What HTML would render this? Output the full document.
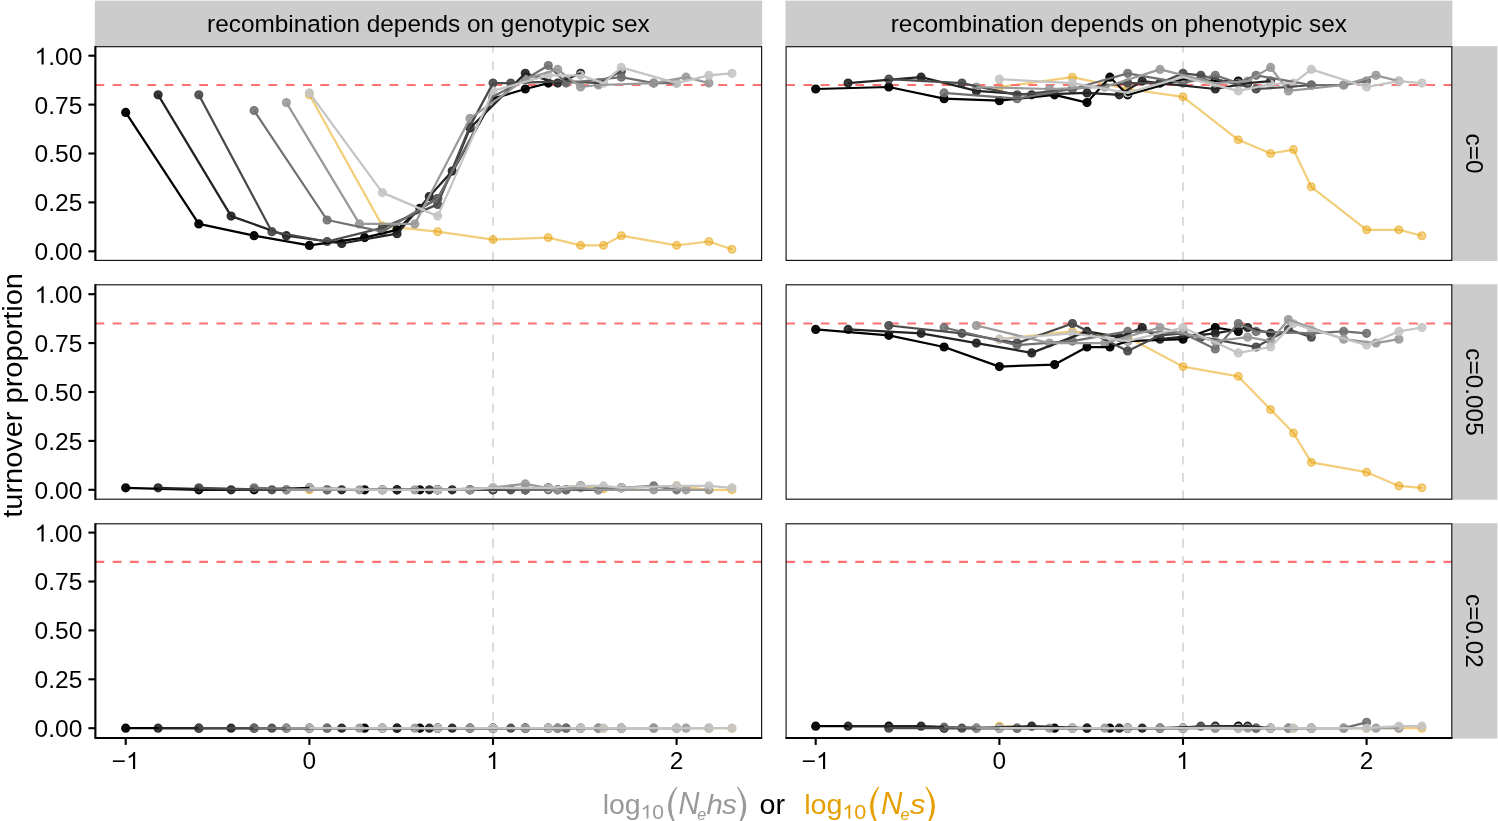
<!DOCTYPE html>
<html><head><meta charset="utf-8"><title>turnover proportion</title>
<style>html,body{margin:0;padding:0;background:#fff;}svg{display:block;will-change:transform;}</style></head>
<body>
<svg width="1498" height="821" viewBox="0 0 1498 821" font-family="Liberation Sans, sans-serif">
<rect x="0" y="0" width="1498" height="821" fill="#ffffff"/>
<rect x="94.80000000000001" y="0.6" width="667.4000000000001" height="46.1" fill="#cccccc"/>
<text transform="translate(428.40,31.60) scale(1.037,1.0)" font-size="23.5" text-anchor="middle" fill="#000">recombination depends on genotypic sex</text>
<rect x="785.5" y="0.6" width="666.9" height="46.1" fill="#cccccc"/>
<text transform="translate(1118.85,31.60) scale(1.037,1.0)" font-size="23.5" text-anchor="middle" fill="#000">recombination depends on phenotypic sex</text>
<rect x="1451.8" y="46.1" width="45.600000000000136" height="214.89999999999998" fill="#cccccc"/>
<text transform="translate(1466.20,153.55) rotate(90) scale(1.037,1.0)" font-size="23.5" text-anchor="middle" fill="#000">c=0</text>
<rect x="1451.8" y="284.2" width="45.600000000000136" height="215.59999999999997" fill="#cccccc"/>
<text transform="translate(1466.20,392.00) rotate(90) scale(1.037,1.0)" font-size="23.5" text-anchor="middle" fill="#000">c=0.005</text>
<rect x="1451.8" y="523.1999999999999" width="45.600000000000136" height="215.40000000000003" fill="#cccccc"/>
<text transform="translate(1466.20,630.90) rotate(90) scale(1.037,1.0)" font-size="23.5" text-anchor="middle" fill="#000">c=0.02</text>
<g>
<rect x="95.4" y="46.7" width="666.2" height="213.7" fill="#fff"/>
<clipPath id="c00"><rect x="95.4" y="46.7" width="666.2" height="213.7"/></clipPath>
<g clip-path="url(#c00)">
<line x1="493.0" y1="260.4" x2="493.0" y2="46.7" stroke="#dadada" stroke-width="1.9" stroke-dasharray="8.85 8.45"/>
<polyline points="309.4,94.8 382.4,225.9 437.7,231.7 493.0,239.6 548.3,237.6 580.6,245.4 603.5,245.4 621.3,235.7 676.6,245.4 708.9,241.5 731.9,249.3" fill="none" stroke="#E69F00" stroke-opacity="0.52" stroke-width="2.2" stroke-linejoin="round"/>
<circle cx="309.4" cy="94.8" r="3.85" fill="#E69F00" fill-opacity="0.46" stroke="#E69F00" stroke-opacity="0.5" stroke-width="1.4"/>
<circle cx="382.4" cy="225.9" r="3.85" fill="#E69F00" fill-opacity="0.46" stroke="#E69F00" stroke-opacity="0.5" stroke-width="1.4"/>
<circle cx="437.7" cy="231.7" r="3.85" fill="#E69F00" fill-opacity="0.46" stroke="#E69F00" stroke-opacity="0.5" stroke-width="1.4"/>
<circle cx="493.0" cy="239.6" r="3.85" fill="#E69F00" fill-opacity="0.46" stroke="#E69F00" stroke-opacity="0.5" stroke-width="1.4"/>
<circle cx="548.3" cy="237.6" r="3.85" fill="#E69F00" fill-opacity="0.46" stroke="#E69F00" stroke-opacity="0.5" stroke-width="1.4"/>
<circle cx="580.6" cy="245.4" r="3.85" fill="#E69F00" fill-opacity="0.46" stroke="#E69F00" stroke-opacity="0.5" stroke-width="1.4"/>
<circle cx="603.5" cy="245.4" r="3.85" fill="#E69F00" fill-opacity="0.46" stroke="#E69F00" stroke-opacity="0.5" stroke-width="1.4"/>
<circle cx="621.3" cy="235.7" r="3.85" fill="#E69F00" fill-opacity="0.46" stroke="#E69F00" stroke-opacity="0.5" stroke-width="1.4"/>
<circle cx="676.6" cy="245.4" r="3.85" fill="#E69F00" fill-opacity="0.46" stroke="#E69F00" stroke-opacity="0.5" stroke-width="1.4"/>
<circle cx="708.9" cy="241.5" r="3.85" fill="#E69F00" fill-opacity="0.46" stroke="#E69F00" stroke-opacity="0.5" stroke-width="1.4"/>
<circle cx="731.9" cy="249.3" r="3.85" fill="#E69F00" fill-opacity="0.46" stroke="#E69F00" stroke-opacity="0.5" stroke-width="1.4"/>
<line x1="95.4" y1="85.0" x2="761.6" y2="85.0" stroke="#ff7272" stroke-width="2.1" stroke-dasharray="8.85 8.45"/>
<circle cx="125.7" cy="112.4" r="3.9" fill="#000000" fill-opacity="0.95" stroke="#000000" stroke-opacity="0.95" stroke-width="1.4"/>
<circle cx="198.8" cy="223.9" r="3.9" fill="#000000" fill-opacity="0.95" stroke="#000000" stroke-opacity="0.95" stroke-width="1.4"/>
<circle cx="254.1" cy="235.7" r="3.9" fill="#000000" fill-opacity="0.95" stroke="#000000" stroke-opacity="0.95" stroke-width="1.4"/>
<circle cx="309.4" cy="245.4" r="3.9" fill="#000000" fill-opacity="0.95" stroke="#000000" stroke-opacity="0.95" stroke-width="1.4"/>
<circle cx="364.6" cy="237.6" r="3.9" fill="#000000" fill-opacity="0.95" stroke="#000000" stroke-opacity="0.95" stroke-width="1.4"/>
<circle cx="397.0" cy="229.8" r="3.9" fill="#000000" fill-opacity="0.95" stroke="#000000" stroke-opacity="0.95" stroke-width="1.4"/>
<circle cx="419.9" cy="208.3" r="3.9" fill="#000000" fill-opacity="0.95" stroke="#000000" stroke-opacity="0.95" stroke-width="1.4"/>
<circle cx="437.7" cy="198.5" r="3.9" fill="#000000" fill-opacity="0.95" stroke="#000000" stroke-opacity="0.95" stroke-width="1.4"/>
<circle cx="493.0" cy="98.7" r="3.9" fill="#000000" fill-opacity="0.95" stroke="#000000" stroke-opacity="0.95" stroke-width="1.4"/>
<circle cx="525.3" cy="89.0" r="3.9" fill="#000000" fill-opacity="0.95" stroke="#000000" stroke-opacity="0.95" stroke-width="1.4"/>
<circle cx="548.3" cy="83.1" r="3.9" fill="#000000" fill-opacity="0.95" stroke="#000000" stroke-opacity="0.95" stroke-width="1.4"/>
<circle cx="158.1" cy="94.8" r="3.9" fill="#232323" fill-opacity="0.91" stroke="#232323" stroke-opacity="0.91" stroke-width="1.4"/>
<circle cx="231.1" cy="216.1" r="3.9" fill="#232323" fill-opacity="0.91" stroke="#232323" stroke-opacity="0.91" stroke-width="1.4"/>
<circle cx="286.4" cy="235.7" r="3.9" fill="#232323" fill-opacity="0.91" stroke="#232323" stroke-opacity="0.91" stroke-width="1.4"/>
<circle cx="341.7" cy="243.5" r="3.9" fill="#232323" fill-opacity="0.91" stroke="#232323" stroke-opacity="0.91" stroke-width="1.4"/>
<circle cx="397.0" cy="233.7" r="3.9" fill="#232323" fill-opacity="0.91" stroke="#232323" stroke-opacity="0.91" stroke-width="1.4"/>
<circle cx="429.3" cy="196.5" r="3.9" fill="#232323" fill-opacity="0.91" stroke="#232323" stroke-opacity="0.91" stroke-width="1.4"/>
<circle cx="452.2" cy="171.1" r="3.9" fill="#232323" fill-opacity="0.91" stroke="#232323" stroke-opacity="0.91" stroke-width="1.4"/>
<circle cx="470.0" cy="128.1" r="3.9" fill="#232323" fill-opacity="0.91" stroke="#232323" stroke-opacity="0.91" stroke-width="1.4"/>
<circle cx="525.3" cy="73.3" r="3.9" fill="#232323" fill-opacity="0.91" stroke="#232323" stroke-opacity="0.91" stroke-width="1.4"/>
<circle cx="557.7" cy="83.1" r="3.9" fill="#232323" fill-opacity="0.91" stroke="#232323" stroke-opacity="0.91" stroke-width="1.4"/>
<circle cx="580.6" cy="73.3" r="3.9" fill="#232323" fill-opacity="0.91" stroke="#232323" stroke-opacity="0.91" stroke-width="1.4"/>
<circle cx="198.8" cy="94.8" r="3.9" fill="#4a4a4a" fill-opacity="0.91" stroke="#4a4a4a" stroke-opacity="0.91" stroke-width="1.4"/>
<circle cx="271.9" cy="231.7" r="3.9" fill="#4a4a4a" fill-opacity="0.91" stroke="#4a4a4a" stroke-opacity="0.91" stroke-width="1.4"/>
<circle cx="327.1" cy="241.5" r="3.9" fill="#4a4a4a" fill-opacity="0.91" stroke="#4a4a4a" stroke-opacity="0.91" stroke-width="1.4"/>
<circle cx="382.4" cy="227.8" r="3.9" fill="#4a4a4a" fill-opacity="0.91" stroke="#4a4a4a" stroke-opacity="0.91" stroke-width="1.4"/>
<circle cx="437.7" cy="204.4" r="3.9" fill="#4a4a4a" fill-opacity="0.91" stroke="#4a4a4a" stroke-opacity="0.91" stroke-width="1.4"/>
<circle cx="470.0" cy="126.1" r="3.9" fill="#4a4a4a" fill-opacity="0.91" stroke="#4a4a4a" stroke-opacity="0.91" stroke-width="1.4"/>
<circle cx="493.0" cy="83.1" r="3.9" fill="#4a4a4a" fill-opacity="0.91" stroke="#4a4a4a" stroke-opacity="0.91" stroke-width="1.4"/>
<circle cx="510.8" cy="83.1" r="3.9" fill="#4a4a4a" fill-opacity="0.91" stroke="#4a4a4a" stroke-opacity="0.91" stroke-width="1.4"/>
<circle cx="566.1" cy="81.1" r="3.9" fill="#4a4a4a" fill-opacity="0.91" stroke="#4a4a4a" stroke-opacity="0.91" stroke-width="1.4"/>
<circle cx="598.4" cy="83.1" r="3.9" fill="#4a4a4a" fill-opacity="0.91" stroke="#4a4a4a" stroke-opacity="0.91" stroke-width="1.4"/>
<circle cx="621.3" cy="71.3" r="3.9" fill="#4a4a4a" fill-opacity="0.91" stroke="#4a4a4a" stroke-opacity="0.91" stroke-width="1.4"/>
<circle cx="254.1" cy="110.5" r="3.9" fill="#707070" fill-opacity="0.88" stroke="#707070" stroke-opacity="0.88" stroke-width="1.4"/>
<circle cx="327.1" cy="220.0" r="3.9" fill="#707070" fill-opacity="0.88" stroke="#707070" stroke-opacity="0.88" stroke-width="1.4"/>
<circle cx="382.4" cy="231.7" r="3.9" fill="#707070" fill-opacity="0.88" stroke="#707070" stroke-opacity="0.88" stroke-width="1.4"/>
<circle cx="437.7" cy="198.5" r="3.9" fill="#707070" fill-opacity="0.88" stroke="#707070" stroke-opacity="0.88" stroke-width="1.4"/>
<circle cx="493.0" cy="96.8" r="3.9" fill="#707070" fill-opacity="0.88" stroke="#707070" stroke-opacity="0.88" stroke-width="1.4"/>
<circle cx="525.3" cy="79.2" r="3.9" fill="#707070" fill-opacity="0.88" stroke="#707070" stroke-opacity="0.88" stroke-width="1.4"/>
<circle cx="548.3" cy="65.5" r="3.9" fill="#707070" fill-opacity="0.88" stroke="#707070" stroke-opacity="0.88" stroke-width="1.4"/>
<circle cx="566.1" cy="83.1" r="3.9" fill="#707070" fill-opacity="0.88" stroke="#707070" stroke-opacity="0.88" stroke-width="1.4"/>
<circle cx="621.3" cy="77.2" r="3.9" fill="#707070" fill-opacity="0.88" stroke="#707070" stroke-opacity="0.88" stroke-width="1.4"/>
<circle cx="653.7" cy="83.1" r="3.9" fill="#707070" fill-opacity="0.88" stroke="#707070" stroke-opacity="0.88" stroke-width="1.4"/>
<circle cx="676.6" cy="83.1" r="3.9" fill="#707070" fill-opacity="0.88" stroke="#707070" stroke-opacity="0.88" stroke-width="1.4"/>
<circle cx="286.4" cy="102.6" r="3.9" fill="#999999" fill-opacity="0.87" stroke="#999999" stroke-opacity="0.87" stroke-width="1.4"/>
<circle cx="359.5" cy="223.9" r="3.9" fill="#999999" fill-opacity="0.87" stroke="#999999" stroke-opacity="0.87" stroke-width="1.4"/>
<circle cx="414.8" cy="223.9" r="3.9" fill="#999999" fill-opacity="0.87" stroke="#999999" stroke-opacity="0.87" stroke-width="1.4"/>
<circle cx="470.0" cy="118.3" r="3.9" fill="#999999" fill-opacity="0.87" stroke="#999999" stroke-opacity="0.87" stroke-width="1.4"/>
<circle cx="525.3" cy="79.2" r="3.9" fill="#999999" fill-opacity="0.87" stroke="#999999" stroke-opacity="0.87" stroke-width="1.4"/>
<circle cx="557.7" cy="69.4" r="3.9" fill="#999999" fill-opacity="0.87" stroke="#999999" stroke-opacity="0.87" stroke-width="1.4"/>
<circle cx="580.6" cy="87.0" r="3.9" fill="#999999" fill-opacity="0.87" stroke="#999999" stroke-opacity="0.87" stroke-width="1.4"/>
<circle cx="598.4" cy="85.0" r="3.9" fill="#999999" fill-opacity="0.87" stroke="#999999" stroke-opacity="0.87" stroke-width="1.4"/>
<circle cx="653.7" cy="83.1" r="3.9" fill="#999999" fill-opacity="0.87" stroke="#999999" stroke-opacity="0.87" stroke-width="1.4"/>
<circle cx="686.0" cy="77.2" r="3.9" fill="#999999" fill-opacity="0.87" stroke="#999999" stroke-opacity="0.87" stroke-width="1.4"/>
<circle cx="708.9" cy="83.1" r="3.9" fill="#999999" fill-opacity="0.87" stroke="#999999" stroke-opacity="0.87" stroke-width="1.4"/>
<circle cx="309.4" cy="92.9" r="3.9" fill="#c4c4c4" fill-opacity="0.86" stroke="#c4c4c4" stroke-opacity="0.86" stroke-width="1.4"/>
<circle cx="382.4" cy="192.6" r="3.9" fill="#c4c4c4" fill-opacity="0.86" stroke="#c4c4c4" stroke-opacity="0.86" stroke-width="1.4"/>
<circle cx="437.7" cy="216.1" r="3.9" fill="#c4c4c4" fill-opacity="0.86" stroke="#c4c4c4" stroke-opacity="0.86" stroke-width="1.4"/>
<circle cx="493.0" cy="90.9" r="3.9" fill="#c4c4c4" fill-opacity="0.86" stroke="#c4c4c4" stroke-opacity="0.86" stroke-width="1.4"/>
<circle cx="548.3" cy="75.3" r="3.9" fill="#c4c4c4" fill-opacity="0.86" stroke="#c4c4c4" stroke-opacity="0.86" stroke-width="1.4"/>
<circle cx="580.6" cy="75.3" r="3.9" fill="#c4c4c4" fill-opacity="0.86" stroke="#c4c4c4" stroke-opacity="0.86" stroke-width="1.4"/>
<circle cx="603.5" cy="83.1" r="3.9" fill="#c4c4c4" fill-opacity="0.86" stroke="#c4c4c4" stroke-opacity="0.86" stroke-width="1.4"/>
<circle cx="621.3" cy="67.4" r="3.9" fill="#c4c4c4" fill-opacity="0.86" stroke="#c4c4c4" stroke-opacity="0.86" stroke-width="1.4"/>
<circle cx="676.6" cy="83.1" r="3.9" fill="#c4c4c4" fill-opacity="0.86" stroke="#c4c4c4" stroke-opacity="0.86" stroke-width="1.4"/>
<circle cx="708.9" cy="75.3" r="3.9" fill="#c4c4c4" fill-opacity="0.86" stroke="#c4c4c4" stroke-opacity="0.86" stroke-width="1.4"/>
<circle cx="731.9" cy="73.3" r="3.9" fill="#c4c4c4" fill-opacity="0.86" stroke="#c4c4c4" stroke-opacity="0.86" stroke-width="1.4"/>
<polyline points="125.7,112.4 198.8,223.9 254.1,235.7 309.4,245.4 364.6,237.6 397.0,229.8 419.9,208.3 437.7,198.5 493.0,98.7 525.3,89.0 548.3,83.1" fill="none" stroke="#000000" stroke-width="2.25" stroke-linejoin="round"/>
<polyline points="158.1,94.8 231.1,216.1 286.4,235.7 341.7,243.5 397.0,233.7 429.3,196.5 452.2,171.1 470.0,128.1 525.3,73.3 557.7,83.1 580.6,73.3" fill="none" stroke="#232323" stroke-width="2.25" stroke-linejoin="round"/>
<polyline points="198.8,94.8 271.9,231.7 327.1,241.5 382.4,227.8 437.7,204.4 470.0,126.1 493.0,83.1 510.8,83.1 566.1,81.1 598.4,83.1 621.3,71.3" fill="none" stroke="#4a4a4a" stroke-width="2.25" stroke-linejoin="round"/>
<polyline points="254.1,110.5 327.1,220.0 382.4,231.7 437.7,198.5 493.0,96.8 525.3,79.2 548.3,65.5 566.1,83.1 621.3,77.2 653.7,83.1 676.6,83.1" fill="none" stroke="#707070" stroke-width="2.25" stroke-linejoin="round"/>
<polyline points="286.4,102.6 359.5,223.9 414.8,223.9 470.0,118.3 525.3,79.2 557.7,69.4 580.6,87.0 598.4,85.0 653.7,83.1 686.0,77.2 708.9,83.1" fill="none" stroke="#999999" stroke-width="2.25" stroke-linejoin="round"/>
<polyline points="309.4,92.9 382.4,192.6 437.7,216.1 493.0,90.9 548.3,75.3 580.6,75.3 603.5,83.1 621.3,67.4 676.6,83.1 708.9,75.3 731.9,73.3" fill="none" stroke="#c4c4c4" stroke-width="2.25" stroke-linejoin="round"/>
</g>
<rect x="95.4" y="46.7" width="666.2" height="213.7" fill="none" stroke="#111" stroke-width="1.15"/>
<line x1="95.4" y1="46.1" x2="95.4" y2="261.0" stroke="#000" stroke-width="2.1"/>
<line x1="88.4" y1="251.3" x2="95.4" y2="251.3" stroke="#000" stroke-width="2.1"/>
<text transform="translate(82.30,260.20) scale(1.045,1.0)" font-size="23.5" text-anchor="end" fill="#000">0.00</text>
<line x1="88.4" y1="202.4" x2="95.4" y2="202.4" stroke="#000" stroke-width="2.1"/>
<text transform="translate(82.30,211.30) scale(1.045,1.0)" font-size="23.5" text-anchor="end" fill="#000">0.25</text>
<line x1="88.4" y1="153.5" x2="95.4" y2="153.5" stroke="#000" stroke-width="2.1"/>
<text transform="translate(82.30,162.40) scale(1.045,1.0)" font-size="23.5" text-anchor="end" fill="#000">0.50</text>
<line x1="88.4" y1="104.6" x2="95.4" y2="104.6" stroke="#000" stroke-width="2.1"/>
<text transform="translate(82.30,113.50) scale(1.045,1.0)" font-size="23.5" text-anchor="end" fill="#000">0.75</text>
<line x1="88.4" y1="55.7" x2="95.4" y2="55.7" stroke="#000" stroke-width="2.1"/>
<text transform="translate(82.30,64.60) scale(1.045,1.0)" font-size="23.5" text-anchor="end" fill="#000">.00</text>
<path d="M763 0H583V1147Q518 1085 412.5 1023T223 930V1104Q374 1175 487 1276T647 1472H763V0Z" transform="translate(34.51,64.60) scale(0.01199,-0.01147)" fill="#000"/>
</g>
<g>
<rect x="95.4" y="284.8" width="666.2" height="214.39999999999998" fill="#fff"/>
<clipPath id="c01"><rect x="95.4" y="284.8" width="666.2" height="214.39999999999998"/></clipPath>
<g clip-path="url(#c01)">
<line x1="493.0" y1="499.2" x2="493.0" y2="284.8" stroke="#dadada" stroke-width="1.9" stroke-dasharray="8.85 8.45"/>
<polyline points="309.4,489.8 382.4,489.8 437.7,489.8 493.0,487.8 548.3,487.8 580.6,485.9 603.5,488.8 621.3,487.8 676.6,485.9 708.9,489.8 731.9,489.8" fill="none" stroke="#E69F00" stroke-opacity="0.52" stroke-width="2.2" stroke-linejoin="round"/>
<circle cx="309.4" cy="489.8" r="3.85" fill="#E69F00" fill-opacity="0.46" stroke="#E69F00" stroke-opacity="0.5" stroke-width="1.4"/>
<circle cx="382.4" cy="489.8" r="3.85" fill="#E69F00" fill-opacity="0.46" stroke="#E69F00" stroke-opacity="0.5" stroke-width="1.4"/>
<circle cx="437.7" cy="489.8" r="3.85" fill="#E69F00" fill-opacity="0.46" stroke="#E69F00" stroke-opacity="0.5" stroke-width="1.4"/>
<circle cx="493.0" cy="487.8" r="3.85" fill="#E69F00" fill-opacity="0.46" stroke="#E69F00" stroke-opacity="0.5" stroke-width="1.4"/>
<circle cx="548.3" cy="487.8" r="3.85" fill="#E69F00" fill-opacity="0.46" stroke="#E69F00" stroke-opacity="0.5" stroke-width="1.4"/>
<circle cx="580.6" cy="485.9" r="3.85" fill="#E69F00" fill-opacity="0.46" stroke="#E69F00" stroke-opacity="0.5" stroke-width="1.4"/>
<circle cx="603.5" cy="488.8" r="3.85" fill="#E69F00" fill-opacity="0.46" stroke="#E69F00" stroke-opacity="0.5" stroke-width="1.4"/>
<circle cx="621.3" cy="487.8" r="3.85" fill="#E69F00" fill-opacity="0.46" stroke="#E69F00" stroke-opacity="0.5" stroke-width="1.4"/>
<circle cx="676.6" cy="485.9" r="3.85" fill="#E69F00" fill-opacity="0.46" stroke="#E69F00" stroke-opacity="0.5" stroke-width="1.4"/>
<circle cx="708.9" cy="489.8" r="3.85" fill="#E69F00" fill-opacity="0.46" stroke="#E69F00" stroke-opacity="0.5" stroke-width="1.4"/>
<circle cx="731.9" cy="489.8" r="3.85" fill="#E69F00" fill-opacity="0.46" stroke="#E69F00" stroke-opacity="0.5" stroke-width="1.4"/>
<line x1="95.4" y1="323.5" x2="761.6" y2="323.5" stroke="#ff7272" stroke-width="2.1" stroke-dasharray="8.85 8.45"/>
<circle cx="125.7" cy="487.8" r="3.9" fill="#000000" fill-opacity="0.95" stroke="#000000" stroke-opacity="0.95" stroke-width="1.4"/>
<circle cx="198.8" cy="489.8" r="3.9" fill="#000000" fill-opacity="0.95" stroke="#000000" stroke-opacity="0.95" stroke-width="1.4"/>
<circle cx="254.1" cy="489.8" r="3.9" fill="#000000" fill-opacity="0.95" stroke="#000000" stroke-opacity="0.95" stroke-width="1.4"/>
<circle cx="309.4" cy="487.8" r="3.9" fill="#000000" fill-opacity="0.95" stroke="#000000" stroke-opacity="0.95" stroke-width="1.4"/>
<circle cx="364.6" cy="489.8" r="3.9" fill="#000000" fill-opacity="0.95" stroke="#000000" stroke-opacity="0.95" stroke-width="1.4"/>
<circle cx="397.0" cy="489.8" r="3.9" fill="#000000" fill-opacity="0.95" stroke="#000000" stroke-opacity="0.95" stroke-width="1.4"/>
<circle cx="419.9" cy="489.8" r="3.9" fill="#000000" fill-opacity="0.95" stroke="#000000" stroke-opacity="0.95" stroke-width="1.4"/>
<circle cx="437.7" cy="489.8" r="3.9" fill="#000000" fill-opacity="0.95" stroke="#000000" stroke-opacity="0.95" stroke-width="1.4"/>
<circle cx="493.0" cy="489.8" r="3.9" fill="#000000" fill-opacity="0.95" stroke="#000000" stroke-opacity="0.95" stroke-width="1.4"/>
<circle cx="525.3" cy="489.8" r="3.9" fill="#000000" fill-opacity="0.95" stroke="#000000" stroke-opacity="0.95" stroke-width="1.4"/>
<circle cx="548.3" cy="487.8" r="3.9" fill="#000000" fill-opacity="0.95" stroke="#000000" stroke-opacity="0.95" stroke-width="1.4"/>
<circle cx="158.1" cy="487.8" r="3.9" fill="#232323" fill-opacity="0.91" stroke="#232323" stroke-opacity="0.91" stroke-width="1.4"/>
<circle cx="231.1" cy="489.8" r="3.9" fill="#232323" fill-opacity="0.91" stroke="#232323" stroke-opacity="0.91" stroke-width="1.4"/>
<circle cx="286.4" cy="489.8" r="3.9" fill="#232323" fill-opacity="0.91" stroke="#232323" stroke-opacity="0.91" stroke-width="1.4"/>
<circle cx="341.7" cy="489.8" r="3.9" fill="#232323" fill-opacity="0.91" stroke="#232323" stroke-opacity="0.91" stroke-width="1.4"/>
<circle cx="397.0" cy="489.8" r="3.9" fill="#232323" fill-opacity="0.91" stroke="#232323" stroke-opacity="0.91" stroke-width="1.4"/>
<circle cx="429.3" cy="489.8" r="3.9" fill="#232323" fill-opacity="0.91" stroke="#232323" stroke-opacity="0.91" stroke-width="1.4"/>
<circle cx="452.2" cy="489.8" r="3.9" fill="#232323" fill-opacity="0.91" stroke="#232323" stroke-opacity="0.91" stroke-width="1.4"/>
<circle cx="470.0" cy="489.8" r="3.9" fill="#232323" fill-opacity="0.91" stroke="#232323" stroke-opacity="0.91" stroke-width="1.4"/>
<circle cx="525.3" cy="489.8" r="3.9" fill="#232323" fill-opacity="0.91" stroke="#232323" stroke-opacity="0.91" stroke-width="1.4"/>
<circle cx="557.7" cy="489.8" r="3.9" fill="#232323" fill-opacity="0.91" stroke="#232323" stroke-opacity="0.91" stroke-width="1.4"/>
<circle cx="580.6" cy="485.9" r="3.9" fill="#232323" fill-opacity="0.91" stroke="#232323" stroke-opacity="0.91" stroke-width="1.4"/>
<circle cx="198.8" cy="487.8" r="3.9" fill="#4a4a4a" fill-opacity="0.91" stroke="#4a4a4a" stroke-opacity="0.91" stroke-width="1.4"/>
<circle cx="271.9" cy="489.8" r="3.9" fill="#4a4a4a" fill-opacity="0.91" stroke="#4a4a4a" stroke-opacity="0.91" stroke-width="1.4"/>
<circle cx="327.1" cy="489.8" r="3.9" fill="#4a4a4a" fill-opacity="0.91" stroke="#4a4a4a" stroke-opacity="0.91" stroke-width="1.4"/>
<circle cx="382.4" cy="489.8" r="3.9" fill="#4a4a4a" fill-opacity="0.91" stroke="#4a4a4a" stroke-opacity="0.91" stroke-width="1.4"/>
<circle cx="437.7" cy="489.8" r="3.9" fill="#4a4a4a" fill-opacity="0.91" stroke="#4a4a4a" stroke-opacity="0.91" stroke-width="1.4"/>
<circle cx="470.0" cy="489.8" r="3.9" fill="#4a4a4a" fill-opacity="0.91" stroke="#4a4a4a" stroke-opacity="0.91" stroke-width="1.4"/>
<circle cx="493.0" cy="489.8" r="3.9" fill="#4a4a4a" fill-opacity="0.91" stroke="#4a4a4a" stroke-opacity="0.91" stroke-width="1.4"/>
<circle cx="510.8" cy="489.8" r="3.9" fill="#4a4a4a" fill-opacity="0.91" stroke="#4a4a4a" stroke-opacity="0.91" stroke-width="1.4"/>
<circle cx="566.1" cy="489.8" r="3.9" fill="#4a4a4a" fill-opacity="0.91" stroke="#4a4a4a" stroke-opacity="0.91" stroke-width="1.4"/>
<circle cx="598.4" cy="489.8" r="3.9" fill="#4a4a4a" fill-opacity="0.91" stroke="#4a4a4a" stroke-opacity="0.91" stroke-width="1.4"/>
<circle cx="621.3" cy="487.8" r="3.9" fill="#4a4a4a" fill-opacity="0.91" stroke="#4a4a4a" stroke-opacity="0.91" stroke-width="1.4"/>
<circle cx="254.1" cy="487.8" r="3.9" fill="#707070" fill-opacity="0.88" stroke="#707070" stroke-opacity="0.88" stroke-width="1.4"/>
<circle cx="327.1" cy="489.8" r="3.9" fill="#707070" fill-opacity="0.88" stroke="#707070" stroke-opacity="0.88" stroke-width="1.4"/>
<circle cx="382.4" cy="489.8" r="3.9" fill="#707070" fill-opacity="0.88" stroke="#707070" stroke-opacity="0.88" stroke-width="1.4"/>
<circle cx="437.7" cy="489.8" r="3.9" fill="#707070" fill-opacity="0.88" stroke="#707070" stroke-opacity="0.88" stroke-width="1.4"/>
<circle cx="493.0" cy="487.8" r="3.9" fill="#707070" fill-opacity="0.88" stroke="#707070" stroke-opacity="0.88" stroke-width="1.4"/>
<circle cx="525.3" cy="489.8" r="3.9" fill="#707070" fill-opacity="0.88" stroke="#707070" stroke-opacity="0.88" stroke-width="1.4"/>
<circle cx="548.3" cy="489.8" r="3.9" fill="#707070" fill-opacity="0.88" stroke="#707070" stroke-opacity="0.88" stroke-width="1.4"/>
<circle cx="566.1" cy="489.8" r="3.9" fill="#707070" fill-opacity="0.88" stroke="#707070" stroke-opacity="0.88" stroke-width="1.4"/>
<circle cx="621.3" cy="487.8" r="3.9" fill="#707070" fill-opacity="0.88" stroke="#707070" stroke-opacity="0.88" stroke-width="1.4"/>
<circle cx="653.7" cy="485.9" r="3.9" fill="#707070" fill-opacity="0.88" stroke="#707070" stroke-opacity="0.88" stroke-width="1.4"/>
<circle cx="676.6" cy="489.8" r="3.9" fill="#707070" fill-opacity="0.88" stroke="#707070" stroke-opacity="0.88" stroke-width="1.4"/>
<circle cx="286.4" cy="489.8" r="3.9" fill="#999999" fill-opacity="0.87" stroke="#999999" stroke-opacity="0.87" stroke-width="1.4"/>
<circle cx="359.5" cy="489.8" r="3.9" fill="#999999" fill-opacity="0.87" stroke="#999999" stroke-opacity="0.87" stroke-width="1.4"/>
<circle cx="414.8" cy="489.8" r="3.9" fill="#999999" fill-opacity="0.87" stroke="#999999" stroke-opacity="0.87" stroke-width="1.4"/>
<circle cx="470.0" cy="489.8" r="3.9" fill="#999999" fill-opacity="0.87" stroke="#999999" stroke-opacity="0.87" stroke-width="1.4"/>
<circle cx="525.3" cy="483.9" r="3.9" fill="#999999" fill-opacity="0.87" stroke="#999999" stroke-opacity="0.87" stroke-width="1.4"/>
<circle cx="557.7" cy="489.8" r="3.9" fill="#999999" fill-opacity="0.87" stroke="#999999" stroke-opacity="0.87" stroke-width="1.4"/>
<circle cx="580.6" cy="487.8" r="3.9" fill="#999999" fill-opacity="0.87" stroke="#999999" stroke-opacity="0.87" stroke-width="1.4"/>
<circle cx="598.4" cy="489.8" r="3.9" fill="#999999" fill-opacity="0.87" stroke="#999999" stroke-opacity="0.87" stroke-width="1.4"/>
<circle cx="653.7" cy="489.8" r="3.9" fill="#999999" fill-opacity="0.87" stroke="#999999" stroke-opacity="0.87" stroke-width="1.4"/>
<circle cx="686.0" cy="489.8" r="3.9" fill="#999999" fill-opacity="0.87" stroke="#999999" stroke-opacity="0.87" stroke-width="1.4"/>
<circle cx="708.9" cy="489.8" r="3.9" fill="#999999" fill-opacity="0.87" stroke="#999999" stroke-opacity="0.87" stroke-width="1.4"/>
<circle cx="309.4" cy="487.8" r="3.9" fill="#c4c4c4" fill-opacity="0.86" stroke="#c4c4c4" stroke-opacity="0.86" stroke-width="1.4"/>
<circle cx="382.4" cy="489.8" r="3.9" fill="#c4c4c4" fill-opacity="0.86" stroke="#c4c4c4" stroke-opacity="0.86" stroke-width="1.4"/>
<circle cx="437.7" cy="489.8" r="3.9" fill="#c4c4c4" fill-opacity="0.86" stroke="#c4c4c4" stroke-opacity="0.86" stroke-width="1.4"/>
<circle cx="493.0" cy="487.8" r="3.9" fill="#c4c4c4" fill-opacity="0.86" stroke="#c4c4c4" stroke-opacity="0.86" stroke-width="1.4"/>
<circle cx="548.3" cy="487.8" r="3.9" fill="#c4c4c4" fill-opacity="0.86" stroke="#c4c4c4" stroke-opacity="0.86" stroke-width="1.4"/>
<circle cx="580.6" cy="485.9" r="3.9" fill="#c4c4c4" fill-opacity="0.86" stroke="#c4c4c4" stroke-opacity="0.86" stroke-width="1.4"/>
<circle cx="603.5" cy="485.9" r="3.9" fill="#c4c4c4" fill-opacity="0.86" stroke="#c4c4c4" stroke-opacity="0.86" stroke-width="1.4"/>
<circle cx="621.3" cy="487.8" r="3.9" fill="#c4c4c4" fill-opacity="0.86" stroke="#c4c4c4" stroke-opacity="0.86" stroke-width="1.4"/>
<circle cx="676.6" cy="485.9" r="3.9" fill="#c4c4c4" fill-opacity="0.86" stroke="#c4c4c4" stroke-opacity="0.86" stroke-width="1.4"/>
<circle cx="708.9" cy="485.9" r="3.9" fill="#c4c4c4" fill-opacity="0.86" stroke="#c4c4c4" stroke-opacity="0.86" stroke-width="1.4"/>
<circle cx="731.9" cy="487.8" r="3.9" fill="#c4c4c4" fill-opacity="0.86" stroke="#c4c4c4" stroke-opacity="0.86" stroke-width="1.4"/>
<polyline points="125.7,487.8 198.8,489.8 254.1,489.8 309.4,487.8 364.6,489.8 397.0,489.8 419.9,489.8 437.7,489.8 493.0,489.8 525.3,489.8 548.3,487.8" fill="none" stroke="#000000" stroke-width="2.25" stroke-linejoin="round"/>
<polyline points="158.1,487.8 231.1,489.8 286.4,489.8 341.7,489.8 397.0,489.8 429.3,489.8 452.2,489.8 470.0,489.8 525.3,489.8 557.7,489.8 580.6,485.9" fill="none" stroke="#232323" stroke-width="2.25" stroke-linejoin="round"/>
<polyline points="198.8,487.8 271.9,489.8 327.1,489.8 382.4,489.8 437.7,489.8 470.0,489.8 493.0,489.8 510.8,489.8 566.1,489.8 598.4,489.8 621.3,487.8" fill="none" stroke="#4a4a4a" stroke-width="2.25" stroke-linejoin="round"/>
<polyline points="254.1,487.8 327.1,489.8 382.4,489.8 437.7,489.8 493.0,487.8 525.3,489.8 548.3,489.8 566.1,489.8 621.3,487.8 653.7,485.9 676.6,489.8" fill="none" stroke="#707070" stroke-width="2.25" stroke-linejoin="round"/>
<polyline points="286.4,489.8 359.5,489.8 414.8,489.8 470.0,489.8 525.3,483.9 557.7,489.8 580.6,487.8 598.4,489.8 653.7,489.8 686.0,489.8 708.9,489.8" fill="none" stroke="#999999" stroke-width="2.25" stroke-linejoin="round"/>
<polyline points="309.4,487.8 382.4,489.8 437.7,489.8 493.0,487.8 548.3,487.8 580.6,485.9 603.5,485.9 621.3,487.8 676.6,485.9 708.9,485.9 731.9,487.8" fill="none" stroke="#c4c4c4" stroke-width="2.25" stroke-linejoin="round"/>
</g>
<rect x="95.4" y="284.8" width="666.2" height="214.39999999999998" fill="none" stroke="#111" stroke-width="1.15"/>
<line x1="95.4" y1="284.2" x2="95.4" y2="499.8" stroke="#000" stroke-width="2.1"/>
<line x1="88.4" y1="489.8" x2="95.4" y2="489.8" stroke="#000" stroke-width="2.1"/>
<text transform="translate(82.30,498.70) scale(1.045,1.0)" font-size="23.5" text-anchor="end" fill="#000">0.00</text>
<line x1="88.4" y1="440.9" x2="95.4" y2="440.9" stroke="#000" stroke-width="2.1"/>
<text transform="translate(82.30,449.80) scale(1.045,1.0)" font-size="23.5" text-anchor="end" fill="#000">0.25</text>
<line x1="88.4" y1="392.0" x2="95.4" y2="392.0" stroke="#000" stroke-width="2.1"/>
<text transform="translate(82.30,400.90) scale(1.045,1.0)" font-size="23.5" text-anchor="end" fill="#000">0.50</text>
<line x1="88.4" y1="343.1" x2="95.4" y2="343.1" stroke="#000" stroke-width="2.1"/>
<text transform="translate(82.30,352.00) scale(1.045,1.0)" font-size="23.5" text-anchor="end" fill="#000">0.75</text>
<line x1="88.4" y1="294.2" x2="95.4" y2="294.2" stroke="#000" stroke-width="2.1"/>
<text transform="translate(82.30,303.10) scale(1.045,1.0)" font-size="23.5" text-anchor="end" fill="#000">.00</text>
<path d="M763 0H583V1147Q518 1085 412.5 1023T223 930V1104Q374 1175 487 1276T647 1472H763V0Z" transform="translate(34.51,303.10) scale(0.01199,-0.01147)" fill="#000"/>
</g>
<g>
<rect x="95.4" y="523.8" width="666.2" height="214.20000000000005" fill="#fff"/>
<clipPath id="c02"><rect x="95.4" y="523.8" width="666.2" height="214.20000000000005"/></clipPath>
<g clip-path="url(#c02)">
<line x1="493.0" y1="738.0" x2="493.0" y2="523.8" stroke="#dadada" stroke-width="1.9" stroke-dasharray="8.85 8.45"/>
<polyline points="309.4,728.2 382.4,728.2 437.7,728.2 493.0,728.2 548.3,728.2 580.6,728.2 603.5,728.2 621.3,728.2 676.6,728.2 708.9,728.2 731.9,728.2" fill="none" stroke="#E69F00" stroke-opacity="0.52" stroke-width="2.2" stroke-linejoin="round"/>
<circle cx="309.4" cy="728.2" r="3.85" fill="#E69F00" fill-opacity="0.46" stroke="#E69F00" stroke-opacity="0.5" stroke-width="1.4"/>
<circle cx="382.4" cy="728.2" r="3.85" fill="#E69F00" fill-opacity="0.46" stroke="#E69F00" stroke-opacity="0.5" stroke-width="1.4"/>
<circle cx="437.7" cy="728.2" r="3.85" fill="#E69F00" fill-opacity="0.46" stroke="#E69F00" stroke-opacity="0.5" stroke-width="1.4"/>
<circle cx="493.0" cy="728.2" r="3.85" fill="#E69F00" fill-opacity="0.46" stroke="#E69F00" stroke-opacity="0.5" stroke-width="1.4"/>
<circle cx="548.3" cy="728.2" r="3.85" fill="#E69F00" fill-opacity="0.46" stroke="#E69F00" stroke-opacity="0.5" stroke-width="1.4"/>
<circle cx="580.6" cy="728.2" r="3.85" fill="#E69F00" fill-opacity="0.46" stroke="#E69F00" stroke-opacity="0.5" stroke-width="1.4"/>
<circle cx="603.5" cy="728.2" r="3.85" fill="#E69F00" fill-opacity="0.46" stroke="#E69F00" stroke-opacity="0.5" stroke-width="1.4"/>
<circle cx="621.3" cy="728.2" r="3.85" fill="#E69F00" fill-opacity="0.46" stroke="#E69F00" stroke-opacity="0.5" stroke-width="1.4"/>
<circle cx="676.6" cy="728.2" r="3.85" fill="#E69F00" fill-opacity="0.46" stroke="#E69F00" stroke-opacity="0.5" stroke-width="1.4"/>
<circle cx="708.9" cy="728.2" r="3.85" fill="#E69F00" fill-opacity="0.46" stroke="#E69F00" stroke-opacity="0.5" stroke-width="1.4"/>
<circle cx="731.9" cy="728.2" r="3.85" fill="#E69F00" fill-opacity="0.46" stroke="#E69F00" stroke-opacity="0.5" stroke-width="1.4"/>
<line x1="95.4" y1="561.9" x2="761.6" y2="561.9" stroke="#ff7272" stroke-width="2.1" stroke-dasharray="8.85 8.45"/>
<circle cx="125.7" cy="728.2" r="3.9" fill="#000000" fill-opacity="0.95" stroke="#000000" stroke-opacity="0.95" stroke-width="1.4"/>
<circle cx="198.8" cy="728.2" r="3.9" fill="#000000" fill-opacity="0.95" stroke="#000000" stroke-opacity="0.95" stroke-width="1.4"/>
<circle cx="254.1" cy="728.2" r="3.9" fill="#000000" fill-opacity="0.95" stroke="#000000" stroke-opacity="0.95" stroke-width="1.4"/>
<circle cx="309.4" cy="728.2" r="3.9" fill="#000000" fill-opacity="0.95" stroke="#000000" stroke-opacity="0.95" stroke-width="1.4"/>
<circle cx="364.6" cy="728.2" r="3.9" fill="#000000" fill-opacity="0.95" stroke="#000000" stroke-opacity="0.95" stroke-width="1.4"/>
<circle cx="397.0" cy="728.2" r="3.9" fill="#000000" fill-opacity="0.95" stroke="#000000" stroke-opacity="0.95" stroke-width="1.4"/>
<circle cx="419.9" cy="728.2" r="3.9" fill="#000000" fill-opacity="0.95" stroke="#000000" stroke-opacity="0.95" stroke-width="1.4"/>
<circle cx="437.7" cy="728.2" r="3.9" fill="#000000" fill-opacity="0.95" stroke="#000000" stroke-opacity="0.95" stroke-width="1.4"/>
<circle cx="493.0" cy="728.2" r="3.9" fill="#000000" fill-opacity="0.95" stroke="#000000" stroke-opacity="0.95" stroke-width="1.4"/>
<circle cx="525.3" cy="728.2" r="3.9" fill="#000000" fill-opacity="0.95" stroke="#000000" stroke-opacity="0.95" stroke-width="1.4"/>
<circle cx="548.3" cy="728.2" r="3.9" fill="#000000" fill-opacity="0.95" stroke="#000000" stroke-opacity="0.95" stroke-width="1.4"/>
<circle cx="158.1" cy="728.2" r="3.9" fill="#232323" fill-opacity="0.91" stroke="#232323" stroke-opacity="0.91" stroke-width="1.4"/>
<circle cx="231.1" cy="728.2" r="3.9" fill="#232323" fill-opacity="0.91" stroke="#232323" stroke-opacity="0.91" stroke-width="1.4"/>
<circle cx="286.4" cy="728.2" r="3.9" fill="#232323" fill-opacity="0.91" stroke="#232323" stroke-opacity="0.91" stroke-width="1.4"/>
<circle cx="341.7" cy="728.2" r="3.9" fill="#232323" fill-opacity="0.91" stroke="#232323" stroke-opacity="0.91" stroke-width="1.4"/>
<circle cx="397.0" cy="728.2" r="3.9" fill="#232323" fill-opacity="0.91" stroke="#232323" stroke-opacity="0.91" stroke-width="1.4"/>
<circle cx="429.3" cy="728.2" r="3.9" fill="#232323" fill-opacity="0.91" stroke="#232323" stroke-opacity="0.91" stroke-width="1.4"/>
<circle cx="452.2" cy="728.2" r="3.9" fill="#232323" fill-opacity="0.91" stroke="#232323" stroke-opacity="0.91" stroke-width="1.4"/>
<circle cx="470.0" cy="728.2" r="3.9" fill="#232323" fill-opacity="0.91" stroke="#232323" stroke-opacity="0.91" stroke-width="1.4"/>
<circle cx="525.3" cy="728.2" r="3.9" fill="#232323" fill-opacity="0.91" stroke="#232323" stroke-opacity="0.91" stroke-width="1.4"/>
<circle cx="557.7" cy="728.2" r="3.9" fill="#232323" fill-opacity="0.91" stroke="#232323" stroke-opacity="0.91" stroke-width="1.4"/>
<circle cx="580.6" cy="728.2" r="3.9" fill="#232323" fill-opacity="0.91" stroke="#232323" stroke-opacity="0.91" stroke-width="1.4"/>
<circle cx="198.8" cy="728.2" r="3.9" fill="#4a4a4a" fill-opacity="0.91" stroke="#4a4a4a" stroke-opacity="0.91" stroke-width="1.4"/>
<circle cx="271.9" cy="728.2" r="3.9" fill="#4a4a4a" fill-opacity="0.91" stroke="#4a4a4a" stroke-opacity="0.91" stroke-width="1.4"/>
<circle cx="327.1" cy="728.2" r="3.9" fill="#4a4a4a" fill-opacity="0.91" stroke="#4a4a4a" stroke-opacity="0.91" stroke-width="1.4"/>
<circle cx="382.4" cy="728.2" r="3.9" fill="#4a4a4a" fill-opacity="0.91" stroke="#4a4a4a" stroke-opacity="0.91" stroke-width="1.4"/>
<circle cx="437.7" cy="728.2" r="3.9" fill="#4a4a4a" fill-opacity="0.91" stroke="#4a4a4a" stroke-opacity="0.91" stroke-width="1.4"/>
<circle cx="470.0" cy="728.2" r="3.9" fill="#4a4a4a" fill-opacity="0.91" stroke="#4a4a4a" stroke-opacity="0.91" stroke-width="1.4"/>
<circle cx="493.0" cy="728.2" r="3.9" fill="#4a4a4a" fill-opacity="0.91" stroke="#4a4a4a" stroke-opacity="0.91" stroke-width="1.4"/>
<circle cx="510.8" cy="728.2" r="3.9" fill="#4a4a4a" fill-opacity="0.91" stroke="#4a4a4a" stroke-opacity="0.91" stroke-width="1.4"/>
<circle cx="566.1" cy="728.2" r="3.9" fill="#4a4a4a" fill-opacity="0.91" stroke="#4a4a4a" stroke-opacity="0.91" stroke-width="1.4"/>
<circle cx="598.4" cy="728.2" r="3.9" fill="#4a4a4a" fill-opacity="0.91" stroke="#4a4a4a" stroke-opacity="0.91" stroke-width="1.4"/>
<circle cx="621.3" cy="728.2" r="3.9" fill="#4a4a4a" fill-opacity="0.91" stroke="#4a4a4a" stroke-opacity="0.91" stroke-width="1.4"/>
<circle cx="254.1" cy="728.2" r="3.9" fill="#707070" fill-opacity="0.88" stroke="#707070" stroke-opacity="0.88" stroke-width="1.4"/>
<circle cx="327.1" cy="728.2" r="3.9" fill="#707070" fill-opacity="0.88" stroke="#707070" stroke-opacity="0.88" stroke-width="1.4"/>
<circle cx="382.4" cy="728.2" r="3.9" fill="#707070" fill-opacity="0.88" stroke="#707070" stroke-opacity="0.88" stroke-width="1.4"/>
<circle cx="437.7" cy="728.2" r="3.9" fill="#707070" fill-opacity="0.88" stroke="#707070" stroke-opacity="0.88" stroke-width="1.4"/>
<circle cx="493.0" cy="728.2" r="3.9" fill="#707070" fill-opacity="0.88" stroke="#707070" stroke-opacity="0.88" stroke-width="1.4"/>
<circle cx="525.3" cy="728.2" r="3.9" fill="#707070" fill-opacity="0.88" stroke="#707070" stroke-opacity="0.88" stroke-width="1.4"/>
<circle cx="548.3" cy="728.2" r="3.9" fill="#707070" fill-opacity="0.88" stroke="#707070" stroke-opacity="0.88" stroke-width="1.4"/>
<circle cx="566.1" cy="728.2" r="3.9" fill="#707070" fill-opacity="0.88" stroke="#707070" stroke-opacity="0.88" stroke-width="1.4"/>
<circle cx="621.3" cy="728.2" r="3.9" fill="#707070" fill-opacity="0.88" stroke="#707070" stroke-opacity="0.88" stroke-width="1.4"/>
<circle cx="653.7" cy="728.2" r="3.9" fill="#707070" fill-opacity="0.88" stroke="#707070" stroke-opacity="0.88" stroke-width="1.4"/>
<circle cx="676.6" cy="728.2" r="3.9" fill="#707070" fill-opacity="0.88" stroke="#707070" stroke-opacity="0.88" stroke-width="1.4"/>
<circle cx="286.4" cy="728.2" r="3.9" fill="#999999" fill-opacity="0.87" stroke="#999999" stroke-opacity="0.87" stroke-width="1.4"/>
<circle cx="359.5" cy="728.2" r="3.9" fill="#999999" fill-opacity="0.87" stroke="#999999" stroke-opacity="0.87" stroke-width="1.4"/>
<circle cx="414.8" cy="728.2" r="3.9" fill="#999999" fill-opacity="0.87" stroke="#999999" stroke-opacity="0.87" stroke-width="1.4"/>
<circle cx="470.0" cy="728.2" r="3.9" fill="#999999" fill-opacity="0.87" stroke="#999999" stroke-opacity="0.87" stroke-width="1.4"/>
<circle cx="525.3" cy="728.2" r="3.9" fill="#999999" fill-opacity="0.87" stroke="#999999" stroke-opacity="0.87" stroke-width="1.4"/>
<circle cx="557.7" cy="728.2" r="3.9" fill="#999999" fill-opacity="0.87" stroke="#999999" stroke-opacity="0.87" stroke-width="1.4"/>
<circle cx="580.6" cy="728.2" r="3.9" fill="#999999" fill-opacity="0.87" stroke="#999999" stroke-opacity="0.87" stroke-width="1.4"/>
<circle cx="598.4" cy="728.2" r="3.9" fill="#999999" fill-opacity="0.87" stroke="#999999" stroke-opacity="0.87" stroke-width="1.4"/>
<circle cx="653.7" cy="728.2" r="3.9" fill="#999999" fill-opacity="0.87" stroke="#999999" stroke-opacity="0.87" stroke-width="1.4"/>
<circle cx="686.0" cy="728.2" r="3.9" fill="#999999" fill-opacity="0.87" stroke="#999999" stroke-opacity="0.87" stroke-width="1.4"/>
<circle cx="708.9" cy="728.2" r="3.9" fill="#999999" fill-opacity="0.87" stroke="#999999" stroke-opacity="0.87" stroke-width="1.4"/>
<circle cx="309.4" cy="728.2" r="3.9" fill="#c4c4c4" fill-opacity="0.86" stroke="#c4c4c4" stroke-opacity="0.86" stroke-width="1.4"/>
<circle cx="382.4" cy="728.2" r="3.9" fill="#c4c4c4" fill-opacity="0.86" stroke="#c4c4c4" stroke-opacity="0.86" stroke-width="1.4"/>
<circle cx="437.7" cy="728.2" r="3.9" fill="#c4c4c4" fill-opacity="0.86" stroke="#c4c4c4" stroke-opacity="0.86" stroke-width="1.4"/>
<circle cx="493.0" cy="728.2" r="3.9" fill="#c4c4c4" fill-opacity="0.86" stroke="#c4c4c4" stroke-opacity="0.86" stroke-width="1.4"/>
<circle cx="548.3" cy="728.2" r="3.9" fill="#c4c4c4" fill-opacity="0.86" stroke="#c4c4c4" stroke-opacity="0.86" stroke-width="1.4"/>
<circle cx="580.6" cy="728.2" r="3.9" fill="#c4c4c4" fill-opacity="0.86" stroke="#c4c4c4" stroke-opacity="0.86" stroke-width="1.4"/>
<circle cx="603.5" cy="728.2" r="3.9" fill="#c4c4c4" fill-opacity="0.86" stroke="#c4c4c4" stroke-opacity="0.86" stroke-width="1.4"/>
<circle cx="621.3" cy="728.2" r="3.9" fill="#c4c4c4" fill-opacity="0.86" stroke="#c4c4c4" stroke-opacity="0.86" stroke-width="1.4"/>
<circle cx="676.6" cy="728.2" r="3.9" fill="#c4c4c4" fill-opacity="0.86" stroke="#c4c4c4" stroke-opacity="0.86" stroke-width="1.4"/>
<circle cx="708.9" cy="728.2" r="3.9" fill="#c4c4c4" fill-opacity="0.86" stroke="#c4c4c4" stroke-opacity="0.86" stroke-width="1.4"/>
<circle cx="731.9" cy="728.2" r="3.9" fill="#c4c4c4" fill-opacity="0.86" stroke="#c4c4c4" stroke-opacity="0.86" stroke-width="1.4"/>
<polyline points="125.7,728.2 198.8,728.2 254.1,728.2 309.4,728.2 364.6,728.2 397.0,728.2 419.9,728.2 437.7,728.2 493.0,728.2 525.3,728.2 548.3,728.2" fill="none" stroke="#000000" stroke-width="2.25" stroke-linejoin="round"/>
<polyline points="158.1,728.2 231.1,728.2 286.4,728.2 341.7,728.2 397.0,728.2 429.3,728.2 452.2,728.2 470.0,728.2 525.3,728.2 557.7,728.2 580.6,728.2" fill="none" stroke="#232323" stroke-width="2.25" stroke-linejoin="round"/>
<polyline points="198.8,728.2 271.9,728.2 327.1,728.2 382.4,728.2 437.7,728.2 470.0,728.2 493.0,728.2 510.8,728.2 566.1,728.2 598.4,728.2 621.3,728.2" fill="none" stroke="#4a4a4a" stroke-width="2.25" stroke-linejoin="round"/>
<polyline points="254.1,728.2 327.1,728.2 382.4,728.2 437.7,728.2 493.0,728.2 525.3,728.2 548.3,728.2 566.1,728.2 621.3,728.2 653.7,728.2 676.6,728.2" fill="none" stroke="#707070" stroke-width="2.25" stroke-linejoin="round"/>
<polyline points="286.4,728.2 359.5,728.2 414.8,728.2 470.0,728.2 525.3,728.2 557.7,728.2 580.6,728.2 598.4,728.2 653.7,728.2 686.0,728.2 708.9,728.2" fill="none" stroke="#999999" stroke-width="2.25" stroke-linejoin="round"/>
<polyline points="309.4,728.2 382.4,728.2 437.7,728.2 493.0,728.2 548.3,728.2 580.6,728.2 603.5,728.2 621.3,728.2 676.6,728.2 708.9,728.2 731.9,728.2" fill="none" stroke="#c4c4c4" stroke-width="2.25" stroke-linejoin="round"/>
</g>
<rect x="95.4" y="523.8" width="666.2" height="214.20000000000005" fill="none" stroke="#111" stroke-width="1.15"/>
<line x1="95.4" y1="523.1999999999999" x2="95.4" y2="738.6" stroke="#000" stroke-width="2.1"/>
<line x1="88.4" y1="728.2" x2="95.4" y2="728.2" stroke="#000" stroke-width="2.1"/>
<text transform="translate(82.30,737.10) scale(1.045,1.0)" font-size="23.5" text-anchor="end" fill="#000">0.00</text>
<line x1="88.4" y1="679.3" x2="95.4" y2="679.3" stroke="#000" stroke-width="2.1"/>
<text transform="translate(82.30,688.20) scale(1.045,1.0)" font-size="23.5" text-anchor="end" fill="#000">0.25</text>
<line x1="88.4" y1="630.4" x2="95.4" y2="630.4" stroke="#000" stroke-width="2.1"/>
<text transform="translate(82.30,639.30) scale(1.045,1.0)" font-size="23.5" text-anchor="end" fill="#000">0.50</text>
<line x1="88.4" y1="581.5" x2="95.4" y2="581.5" stroke="#000" stroke-width="2.1"/>
<text transform="translate(82.30,590.40) scale(1.045,1.0)" font-size="23.5" text-anchor="end" fill="#000">0.75</text>
<line x1="88.4" y1="532.6" x2="95.4" y2="532.6" stroke="#000" stroke-width="2.1"/>
<text transform="translate(82.30,541.50) scale(1.045,1.0)" font-size="23.5" text-anchor="end" fill="#000">.00</text>
<path d="M763 0H583V1147Q518 1085 412.5 1023T223 930V1104Q374 1175 487 1276T647 1472H763V0Z" transform="translate(34.51,541.50) scale(0.01199,-0.01147)" fill="#000"/>
<line x1="94.80000000000001" y1="738.0" x2="762.2" y2="738.0" stroke="#000" stroke-width="2.1"/>
<line x1="125.7" y1="738.0" x2="125.7" y2="744.9" stroke="#000" stroke-width="2.1"/>
<text transform="translate(111.79,769.00) scale(1.04,1.0)" font-size="23.5" text-anchor="start" fill="#000">−</text>
<path d="M763 0H583V1147Q518 1085 412.5 1023T223 930V1104Q374 1175 487 1276T647 1472H763V0Z" transform="translate(126.06,769.00) scale(0.01193,-0.01147)" fill="#000"/>
<line x1="309.4" y1="738.0" x2="309.4" y2="744.9" stroke="#000" stroke-width="2.1"/>
<text transform="translate(309.35,769.00) scale(1.04,1.0)" font-size="23.5" text-anchor="middle" fill="#000">0</text>
<line x1="493.0" y1="738.0" x2="493.0" y2="744.9" stroke="#000" stroke-width="2.1"/>
<path d="M763 0H583V1147Q518 1085 412.5 1023T223 930V1104Q374 1175 487 1276T647 1472H763V0Z" transform="translate(486.19,769.00) scale(0.01193,-0.01147)" fill="#000"/>
<line x1="676.6" y1="738.0" x2="676.6" y2="744.9" stroke="#000" stroke-width="2.1"/>
<text transform="translate(676.61,769.00) scale(1.04,1.0)" font-size="23.5" text-anchor="middle" fill="#000">2</text>
</g>
<g>
<rect x="786.1" y="46.7" width="665.6999999999999" height="213.7" fill="#fff"/>
<clipPath id="c10"><rect x="786.1" y="46.7" width="665.6999999999999" height="213.7"/></clipPath>
<g clip-path="url(#c10)">
<line x1="1183.0" y1="260.4" x2="1183.0" y2="46.7" stroke="#dadada" stroke-width="1.9" stroke-dasharray="8.85 8.45"/>
<polyline points="999.4,87.0 1072.4,77.2 1127.7,89.0 1183.0,96.8 1238.3,139.8 1270.6,153.5 1293.5,149.6 1311.3,186.8 1366.6,229.8 1398.9,229.8 1421.9,235.7" fill="none" stroke="#E69F00" stroke-opacity="0.52" stroke-width="2.2" stroke-linejoin="round"/>
<circle cx="999.4" cy="87.0" r="3.85" fill="#E69F00" fill-opacity="0.46" stroke="#E69F00" stroke-opacity="0.5" stroke-width="1.4"/>
<circle cx="1072.4" cy="77.2" r="3.85" fill="#E69F00" fill-opacity="0.46" stroke="#E69F00" stroke-opacity="0.5" stroke-width="1.4"/>
<circle cx="1127.7" cy="89.0" r="3.85" fill="#E69F00" fill-opacity="0.46" stroke="#E69F00" stroke-opacity="0.5" stroke-width="1.4"/>
<circle cx="1183.0" cy="96.8" r="3.85" fill="#E69F00" fill-opacity="0.46" stroke="#E69F00" stroke-opacity="0.5" stroke-width="1.4"/>
<circle cx="1238.3" cy="139.8" r="3.85" fill="#E69F00" fill-opacity="0.46" stroke="#E69F00" stroke-opacity="0.5" stroke-width="1.4"/>
<circle cx="1270.6" cy="153.5" r="3.85" fill="#E69F00" fill-opacity="0.46" stroke="#E69F00" stroke-opacity="0.5" stroke-width="1.4"/>
<circle cx="1293.5" cy="149.6" r="3.85" fill="#E69F00" fill-opacity="0.46" stroke="#E69F00" stroke-opacity="0.5" stroke-width="1.4"/>
<circle cx="1311.3" cy="186.8" r="3.85" fill="#E69F00" fill-opacity="0.46" stroke="#E69F00" stroke-opacity="0.5" stroke-width="1.4"/>
<circle cx="1366.6" cy="229.8" r="3.85" fill="#E69F00" fill-opacity="0.46" stroke="#E69F00" stroke-opacity="0.5" stroke-width="1.4"/>
<circle cx="1398.9" cy="229.8" r="3.85" fill="#E69F00" fill-opacity="0.46" stroke="#E69F00" stroke-opacity="0.5" stroke-width="1.4"/>
<circle cx="1421.9" cy="235.7" r="3.85" fill="#E69F00" fill-opacity="0.46" stroke="#E69F00" stroke-opacity="0.5" stroke-width="1.4"/>
<line x1="786.1" y1="85.0" x2="1451.8" y2="85.0" stroke="#ff7272" stroke-width="2.1" stroke-dasharray="8.85 8.45"/>
<circle cx="815.7" cy="89.0" r="3.9" fill="#000000" fill-opacity="0.95" stroke="#000000" stroke-opacity="0.95" stroke-width="1.4"/>
<circle cx="888.8" cy="87.0" r="3.9" fill="#000000" fill-opacity="0.95" stroke="#000000" stroke-opacity="0.95" stroke-width="1.4"/>
<circle cx="944.1" cy="98.7" r="3.9" fill="#000000" fill-opacity="0.95" stroke="#000000" stroke-opacity="0.95" stroke-width="1.4"/>
<circle cx="999.4" cy="100.7" r="3.9" fill="#000000" fill-opacity="0.95" stroke="#000000" stroke-opacity="0.95" stroke-width="1.4"/>
<circle cx="1054.6" cy="94.8" r="3.9" fill="#000000" fill-opacity="0.95" stroke="#000000" stroke-opacity="0.95" stroke-width="1.4"/>
<circle cx="1087.0" cy="102.6" r="3.9" fill="#000000" fill-opacity="0.95" stroke="#000000" stroke-opacity="0.95" stroke-width="1.4"/>
<circle cx="1109.9" cy="77.2" r="3.9" fill="#000000" fill-opacity="0.95" stroke="#000000" stroke-opacity="0.95" stroke-width="1.4"/>
<circle cx="1127.7" cy="94.8" r="3.9" fill="#000000" fill-opacity="0.95" stroke="#000000" stroke-opacity="0.95" stroke-width="1.4"/>
<circle cx="1183.0" cy="79.2" r="3.9" fill="#000000" fill-opacity="0.95" stroke="#000000" stroke-opacity="0.95" stroke-width="1.4"/>
<circle cx="1215.3" cy="81.1" r="3.9" fill="#000000" fill-opacity="0.95" stroke="#000000" stroke-opacity="0.95" stroke-width="1.4"/>
<circle cx="1238.3" cy="81.1" r="3.9" fill="#000000" fill-opacity="0.95" stroke="#000000" stroke-opacity="0.95" stroke-width="1.4"/>
<circle cx="848.1" cy="83.1" r="3.9" fill="#232323" fill-opacity="0.91" stroke="#232323" stroke-opacity="0.91" stroke-width="1.4"/>
<circle cx="921.1" cy="77.2" r="3.9" fill="#232323" fill-opacity="0.91" stroke="#232323" stroke-opacity="0.91" stroke-width="1.4"/>
<circle cx="976.4" cy="90.9" r="3.9" fill="#232323" fill-opacity="0.91" stroke="#232323" stroke-opacity="0.91" stroke-width="1.4"/>
<circle cx="1031.7" cy="94.8" r="3.9" fill="#232323" fill-opacity="0.91" stroke="#232323" stroke-opacity="0.91" stroke-width="1.4"/>
<circle cx="1087.0" cy="92.9" r="3.9" fill="#232323" fill-opacity="0.91" stroke="#232323" stroke-opacity="0.91" stroke-width="1.4"/>
<circle cx="1119.3" cy="94.8" r="3.9" fill="#232323" fill-opacity="0.91" stroke="#232323" stroke-opacity="0.91" stroke-width="1.4"/>
<circle cx="1142.2" cy="81.1" r="3.9" fill="#232323" fill-opacity="0.91" stroke="#232323" stroke-opacity="0.91" stroke-width="1.4"/>
<circle cx="1160.0" cy="83.1" r="3.9" fill="#232323" fill-opacity="0.91" stroke="#232323" stroke-opacity="0.91" stroke-width="1.4"/>
<circle cx="1215.3" cy="89.0" r="3.9" fill="#232323" fill-opacity="0.91" stroke="#232323" stroke-opacity="0.91" stroke-width="1.4"/>
<circle cx="1247.7" cy="83.1" r="3.9" fill="#232323" fill-opacity="0.91" stroke="#232323" stroke-opacity="0.91" stroke-width="1.4"/>
<circle cx="1270.6" cy="81.1" r="3.9" fill="#232323" fill-opacity="0.91" stroke="#232323" stroke-opacity="0.91" stroke-width="1.4"/>
<circle cx="888.8" cy="79.2" r="3.9" fill="#4a4a4a" fill-opacity="0.91" stroke="#4a4a4a" stroke-opacity="0.91" stroke-width="1.4"/>
<circle cx="961.9" cy="83.1" r="3.9" fill="#4a4a4a" fill-opacity="0.91" stroke="#4a4a4a" stroke-opacity="0.91" stroke-width="1.4"/>
<circle cx="1017.1" cy="94.8" r="3.9" fill="#4a4a4a" fill-opacity="0.91" stroke="#4a4a4a" stroke-opacity="0.91" stroke-width="1.4"/>
<circle cx="1072.4" cy="89.0" r="3.9" fill="#4a4a4a" fill-opacity="0.91" stroke="#4a4a4a" stroke-opacity="0.91" stroke-width="1.4"/>
<circle cx="1127.7" cy="83.1" r="3.9" fill="#4a4a4a" fill-opacity="0.91" stroke="#4a4a4a" stroke-opacity="0.91" stroke-width="1.4"/>
<circle cx="1160.0" cy="83.1" r="3.9" fill="#4a4a4a" fill-opacity="0.91" stroke="#4a4a4a" stroke-opacity="0.91" stroke-width="1.4"/>
<circle cx="1183.0" cy="73.3" r="3.9" fill="#4a4a4a" fill-opacity="0.91" stroke="#4a4a4a" stroke-opacity="0.91" stroke-width="1.4"/>
<circle cx="1200.8" cy="75.3" r="3.9" fill="#4a4a4a" fill-opacity="0.91" stroke="#4a4a4a" stroke-opacity="0.91" stroke-width="1.4"/>
<circle cx="1256.1" cy="89.0" r="3.9" fill="#4a4a4a" fill-opacity="0.91" stroke="#4a4a4a" stroke-opacity="0.91" stroke-width="1.4"/>
<circle cx="1288.4" cy="87.0" r="3.9" fill="#4a4a4a" fill-opacity="0.91" stroke="#4a4a4a" stroke-opacity="0.91" stroke-width="1.4"/>
<circle cx="1311.3" cy="85.0" r="3.9" fill="#4a4a4a" fill-opacity="0.91" stroke="#4a4a4a" stroke-opacity="0.91" stroke-width="1.4"/>
<circle cx="944.1" cy="92.9" r="3.9" fill="#707070" fill-opacity="0.88" stroke="#707070" stroke-opacity="0.88" stroke-width="1.4"/>
<circle cx="1017.1" cy="98.7" r="3.9" fill="#707070" fill-opacity="0.88" stroke="#707070" stroke-opacity="0.88" stroke-width="1.4"/>
<circle cx="1072.4" cy="89.0" r="3.9" fill="#707070" fill-opacity="0.88" stroke="#707070" stroke-opacity="0.88" stroke-width="1.4"/>
<circle cx="1127.7" cy="73.3" r="3.9" fill="#707070" fill-opacity="0.88" stroke="#707070" stroke-opacity="0.88" stroke-width="1.4"/>
<circle cx="1183.0" cy="83.1" r="3.9" fill="#707070" fill-opacity="0.88" stroke="#707070" stroke-opacity="0.88" stroke-width="1.4"/>
<circle cx="1215.3" cy="75.3" r="3.9" fill="#707070" fill-opacity="0.88" stroke="#707070" stroke-opacity="0.88" stroke-width="1.4"/>
<circle cx="1238.3" cy="83.1" r="3.9" fill="#707070" fill-opacity="0.88" stroke="#707070" stroke-opacity="0.88" stroke-width="1.4"/>
<circle cx="1256.1" cy="75.3" r="3.9" fill="#707070" fill-opacity="0.88" stroke="#707070" stroke-opacity="0.88" stroke-width="1.4"/>
<circle cx="1311.3" cy="85.0" r="3.9" fill="#707070" fill-opacity="0.88" stroke="#707070" stroke-opacity="0.88" stroke-width="1.4"/>
<circle cx="1343.7" cy="85.0" r="3.9" fill="#707070" fill-opacity="0.88" stroke="#707070" stroke-opacity="0.88" stroke-width="1.4"/>
<circle cx="1366.6" cy="81.1" r="3.9" fill="#707070" fill-opacity="0.88" stroke="#707070" stroke-opacity="0.88" stroke-width="1.4"/>
<circle cx="976.4" cy="87.0" r="3.9" fill="#999999" fill-opacity="0.87" stroke="#999999" stroke-opacity="0.87" stroke-width="1.4"/>
<circle cx="1049.5" cy="89.0" r="3.9" fill="#999999" fill-opacity="0.87" stroke="#999999" stroke-opacity="0.87" stroke-width="1.4"/>
<circle cx="1104.8" cy="87.0" r="3.9" fill="#999999" fill-opacity="0.87" stroke="#999999" stroke-opacity="0.87" stroke-width="1.4"/>
<circle cx="1160.0" cy="69.4" r="3.9" fill="#999999" fill-opacity="0.87" stroke="#999999" stroke-opacity="0.87" stroke-width="1.4"/>
<circle cx="1215.3" cy="83.1" r="3.9" fill="#999999" fill-opacity="0.87" stroke="#999999" stroke-opacity="0.87" stroke-width="1.4"/>
<circle cx="1247.7" cy="81.1" r="3.9" fill="#999999" fill-opacity="0.87" stroke="#999999" stroke-opacity="0.87" stroke-width="1.4"/>
<circle cx="1270.6" cy="67.4" r="3.9" fill="#999999" fill-opacity="0.87" stroke="#999999" stroke-opacity="0.87" stroke-width="1.4"/>
<circle cx="1288.4" cy="90.9" r="3.9" fill="#999999" fill-opacity="0.87" stroke="#999999" stroke-opacity="0.87" stroke-width="1.4"/>
<circle cx="1343.7" cy="85.0" r="3.9" fill="#999999" fill-opacity="0.87" stroke="#999999" stroke-opacity="0.87" stroke-width="1.4"/>
<circle cx="1376.0" cy="75.3" r="3.9" fill="#999999" fill-opacity="0.87" stroke="#999999" stroke-opacity="0.87" stroke-width="1.4"/>
<circle cx="1398.9" cy="81.1" r="3.9" fill="#999999" fill-opacity="0.87" stroke="#999999" stroke-opacity="0.87" stroke-width="1.4"/>
<circle cx="999.4" cy="79.2" r="3.9" fill="#c4c4c4" fill-opacity="0.86" stroke="#c4c4c4" stroke-opacity="0.86" stroke-width="1.4"/>
<circle cx="1072.4" cy="83.1" r="3.9" fill="#c4c4c4" fill-opacity="0.86" stroke="#c4c4c4" stroke-opacity="0.86" stroke-width="1.4"/>
<circle cx="1127.7" cy="92.9" r="3.9" fill="#c4c4c4" fill-opacity="0.86" stroke="#c4c4c4" stroke-opacity="0.86" stroke-width="1.4"/>
<circle cx="1183.0" cy="77.2" r="3.9" fill="#c4c4c4" fill-opacity="0.86" stroke="#c4c4c4" stroke-opacity="0.86" stroke-width="1.4"/>
<circle cx="1238.3" cy="90.9" r="3.9" fill="#c4c4c4" fill-opacity="0.86" stroke="#c4c4c4" stroke-opacity="0.86" stroke-width="1.4"/>
<circle cx="1270.6" cy="84.1" r="3.9" fill="#c4c4c4" fill-opacity="0.86" stroke="#c4c4c4" stroke-opacity="0.86" stroke-width="1.4"/>
<circle cx="1293.5" cy="83.1" r="3.9" fill="#c4c4c4" fill-opacity="0.86" stroke="#c4c4c4" stroke-opacity="0.86" stroke-width="1.4"/>
<circle cx="1311.3" cy="69.4" r="3.9" fill="#c4c4c4" fill-opacity="0.86" stroke="#c4c4c4" stroke-opacity="0.86" stroke-width="1.4"/>
<circle cx="1366.6" cy="87.0" r="3.9" fill="#c4c4c4" fill-opacity="0.86" stroke="#c4c4c4" stroke-opacity="0.86" stroke-width="1.4"/>
<circle cx="1398.9" cy="81.1" r="3.9" fill="#c4c4c4" fill-opacity="0.86" stroke="#c4c4c4" stroke-opacity="0.86" stroke-width="1.4"/>
<circle cx="1421.9" cy="83.1" r="3.9" fill="#c4c4c4" fill-opacity="0.86" stroke="#c4c4c4" stroke-opacity="0.86" stroke-width="1.4"/>
<polyline points="815.7,89.0 888.8,87.0 944.1,98.7 999.4,100.7 1054.6,94.8 1087.0,102.6 1109.9,77.2 1127.7,94.8 1183.0,79.2 1215.3,81.1 1238.3,81.1" fill="none" stroke="#000000" stroke-width="2.25" stroke-linejoin="round"/>
<polyline points="848.1,83.1 921.1,77.2 976.4,90.9 1031.7,94.8 1087.0,92.9 1119.3,94.8 1142.2,81.1 1160.0,83.1 1215.3,89.0 1247.7,83.1 1270.6,81.1" fill="none" stroke="#232323" stroke-width="2.25" stroke-linejoin="round"/>
<polyline points="888.8,79.2 961.9,83.1 1017.1,94.8 1072.4,89.0 1127.7,83.1 1160.0,83.1 1183.0,73.3 1200.8,75.3 1256.1,89.0 1288.4,87.0 1311.3,85.0" fill="none" stroke="#4a4a4a" stroke-width="2.25" stroke-linejoin="round"/>
<polyline points="944.1,92.9 1017.1,98.7 1072.4,89.0 1127.7,73.3 1183.0,83.1 1215.3,75.3 1238.3,83.1 1256.1,75.3 1311.3,85.0 1343.7,85.0 1366.6,81.1" fill="none" stroke="#707070" stroke-width="2.25" stroke-linejoin="round"/>
<polyline points="976.4,87.0 1049.5,89.0 1104.8,87.0 1160.0,69.4 1215.3,83.1 1247.7,81.1 1270.6,67.4 1288.4,90.9 1343.7,85.0 1376.0,75.3 1398.9,81.1" fill="none" stroke="#999999" stroke-width="2.25" stroke-linejoin="round"/>
<polyline points="999.4,79.2 1072.4,83.1 1127.7,92.9 1183.0,77.2 1238.3,90.9 1270.6,84.1 1293.5,83.1 1311.3,69.4 1366.6,87.0 1398.9,81.1 1421.9,83.1" fill="none" stroke="#c4c4c4" stroke-width="2.25" stroke-linejoin="round"/>
</g>
<rect x="786.1" y="46.7" width="665.6999999999999" height="213.7" fill="none" stroke="#111" stroke-width="1.15"/>
</g>
<g>
<rect x="786.1" y="284.8" width="665.6999999999999" height="214.39999999999998" fill="#fff"/>
<clipPath id="c11"><rect x="786.1" y="284.8" width="665.6999999999999" height="214.39999999999998"/></clipPath>
<g clip-path="url(#c11)">
<line x1="1183.0" y1="499.2" x2="1183.0" y2="284.8" stroke="#dadada" stroke-width="1.9" stroke-dasharray="8.85 8.45"/>
<polyline points="999.4,339.2 1072.4,331.4 1127.7,337.2 1183.0,366.6 1238.3,376.4 1270.6,409.6 1293.5,433.1 1311.3,462.4 1366.6,472.2 1398.9,485.9 1421.9,487.8" fill="none" stroke="#E69F00" stroke-opacity="0.52" stroke-width="2.2" stroke-linejoin="round"/>
<circle cx="999.4" cy="339.2" r="3.85" fill="#E69F00" fill-opacity="0.46" stroke="#E69F00" stroke-opacity="0.5" stroke-width="1.4"/>
<circle cx="1072.4" cy="331.4" r="3.85" fill="#E69F00" fill-opacity="0.46" stroke="#E69F00" stroke-opacity="0.5" stroke-width="1.4"/>
<circle cx="1127.7" cy="337.2" r="3.85" fill="#E69F00" fill-opacity="0.46" stroke="#E69F00" stroke-opacity="0.5" stroke-width="1.4"/>
<circle cx="1183.0" cy="366.6" r="3.85" fill="#E69F00" fill-opacity="0.46" stroke="#E69F00" stroke-opacity="0.5" stroke-width="1.4"/>
<circle cx="1238.3" cy="376.4" r="3.85" fill="#E69F00" fill-opacity="0.46" stroke="#E69F00" stroke-opacity="0.5" stroke-width="1.4"/>
<circle cx="1270.6" cy="409.6" r="3.85" fill="#E69F00" fill-opacity="0.46" stroke="#E69F00" stroke-opacity="0.5" stroke-width="1.4"/>
<circle cx="1293.5" cy="433.1" r="3.85" fill="#E69F00" fill-opacity="0.46" stroke="#E69F00" stroke-opacity="0.5" stroke-width="1.4"/>
<circle cx="1311.3" cy="462.4" r="3.85" fill="#E69F00" fill-opacity="0.46" stroke="#E69F00" stroke-opacity="0.5" stroke-width="1.4"/>
<circle cx="1366.6" cy="472.2" r="3.85" fill="#E69F00" fill-opacity="0.46" stroke="#E69F00" stroke-opacity="0.5" stroke-width="1.4"/>
<circle cx="1398.9" cy="485.9" r="3.85" fill="#E69F00" fill-opacity="0.46" stroke="#E69F00" stroke-opacity="0.5" stroke-width="1.4"/>
<circle cx="1421.9" cy="487.8" r="3.85" fill="#E69F00" fill-opacity="0.46" stroke="#E69F00" stroke-opacity="0.5" stroke-width="1.4"/>
<line x1="786.1" y1="323.5" x2="1451.8" y2="323.5" stroke="#ff7272" stroke-width="2.1" stroke-dasharray="8.85 8.45"/>
<circle cx="815.7" cy="329.4" r="3.9" fill="#000000" fill-opacity="0.95" stroke="#000000" stroke-opacity="0.95" stroke-width="1.4"/>
<circle cx="888.8" cy="335.3" r="3.9" fill="#000000" fill-opacity="0.95" stroke="#000000" stroke-opacity="0.95" stroke-width="1.4"/>
<circle cx="944.1" cy="347.0" r="3.9" fill="#000000" fill-opacity="0.95" stroke="#000000" stroke-opacity="0.95" stroke-width="1.4"/>
<circle cx="999.4" cy="366.6" r="3.9" fill="#000000" fill-opacity="0.95" stroke="#000000" stroke-opacity="0.95" stroke-width="1.4"/>
<circle cx="1054.6" cy="364.6" r="3.9" fill="#000000" fill-opacity="0.95" stroke="#000000" stroke-opacity="0.95" stroke-width="1.4"/>
<circle cx="1087.0" cy="347.0" r="3.9" fill="#000000" fill-opacity="0.95" stroke="#000000" stroke-opacity="0.95" stroke-width="1.4"/>
<circle cx="1109.9" cy="347.0" r="3.9" fill="#000000" fill-opacity="0.95" stroke="#000000" stroke-opacity="0.95" stroke-width="1.4"/>
<circle cx="1127.7" cy="341.1" r="3.9" fill="#000000" fill-opacity="0.95" stroke="#000000" stroke-opacity="0.95" stroke-width="1.4"/>
<circle cx="1183.0" cy="339.2" r="3.9" fill="#000000" fill-opacity="0.95" stroke="#000000" stroke-opacity="0.95" stroke-width="1.4"/>
<circle cx="1215.3" cy="327.5" r="3.9" fill="#000000" fill-opacity="0.95" stroke="#000000" stroke-opacity="0.95" stroke-width="1.4"/>
<circle cx="1238.3" cy="331.4" r="3.9" fill="#000000" fill-opacity="0.95" stroke="#000000" stroke-opacity="0.95" stroke-width="1.4"/>
<circle cx="848.1" cy="329.4" r="3.9" fill="#232323" fill-opacity="0.91" stroke="#232323" stroke-opacity="0.91" stroke-width="1.4"/>
<circle cx="921.1" cy="333.3" r="3.9" fill="#232323" fill-opacity="0.91" stroke="#232323" stroke-opacity="0.91" stroke-width="1.4"/>
<circle cx="976.4" cy="343.1" r="3.9" fill="#232323" fill-opacity="0.91" stroke="#232323" stroke-opacity="0.91" stroke-width="1.4"/>
<circle cx="1031.7" cy="352.9" r="3.9" fill="#232323" fill-opacity="0.91" stroke="#232323" stroke-opacity="0.91" stroke-width="1.4"/>
<circle cx="1087.0" cy="331.4" r="3.9" fill="#232323" fill-opacity="0.91" stroke="#232323" stroke-opacity="0.91" stroke-width="1.4"/>
<circle cx="1119.3" cy="337.2" r="3.9" fill="#232323" fill-opacity="0.91" stroke="#232323" stroke-opacity="0.91" stroke-width="1.4"/>
<circle cx="1142.2" cy="327.5" r="3.9" fill="#232323" fill-opacity="0.91" stroke="#232323" stroke-opacity="0.91" stroke-width="1.4"/>
<circle cx="1160.0" cy="339.2" r="3.9" fill="#232323" fill-opacity="0.91" stroke="#232323" stroke-opacity="0.91" stroke-width="1.4"/>
<circle cx="1215.3" cy="333.3" r="3.9" fill="#232323" fill-opacity="0.91" stroke="#232323" stroke-opacity="0.91" stroke-width="1.4"/>
<circle cx="1247.7" cy="327.5" r="3.9" fill="#232323" fill-opacity="0.91" stroke="#232323" stroke-opacity="0.91" stroke-width="1.4"/>
<circle cx="1270.6" cy="333.3" r="3.9" fill="#232323" fill-opacity="0.91" stroke="#232323" stroke-opacity="0.91" stroke-width="1.4"/>
<circle cx="888.8" cy="325.5" r="3.9" fill="#4a4a4a" fill-opacity="0.91" stroke="#4a4a4a" stroke-opacity="0.91" stroke-width="1.4"/>
<circle cx="961.9" cy="333.3" r="3.9" fill="#4a4a4a" fill-opacity="0.91" stroke="#4a4a4a" stroke-opacity="0.91" stroke-width="1.4"/>
<circle cx="1017.1" cy="343.1" r="3.9" fill="#4a4a4a" fill-opacity="0.91" stroke="#4a4a4a" stroke-opacity="0.91" stroke-width="1.4"/>
<circle cx="1072.4" cy="323.5" r="3.9" fill="#4a4a4a" fill-opacity="0.91" stroke="#4a4a4a" stroke-opacity="0.91" stroke-width="1.4"/>
<circle cx="1127.7" cy="350.9" r="3.9" fill="#4a4a4a" fill-opacity="0.91" stroke="#4a4a4a" stroke-opacity="0.91" stroke-width="1.4"/>
<circle cx="1160.0" cy="335.3" r="3.9" fill="#4a4a4a" fill-opacity="0.91" stroke="#4a4a4a" stroke-opacity="0.91" stroke-width="1.4"/>
<circle cx="1183.0" cy="333.3" r="3.9" fill="#4a4a4a" fill-opacity="0.91" stroke="#4a4a4a" stroke-opacity="0.91" stroke-width="1.4"/>
<circle cx="1200.8" cy="337.2" r="3.9" fill="#4a4a4a" fill-opacity="0.91" stroke="#4a4a4a" stroke-opacity="0.91" stroke-width="1.4"/>
<circle cx="1256.1" cy="347.0" r="3.9" fill="#4a4a4a" fill-opacity="0.91" stroke="#4a4a4a" stroke-opacity="0.91" stroke-width="1.4"/>
<circle cx="1288.4" cy="329.4" r="3.9" fill="#4a4a4a" fill-opacity="0.91" stroke="#4a4a4a" stroke-opacity="0.91" stroke-width="1.4"/>
<circle cx="1311.3" cy="337.2" r="3.9" fill="#4a4a4a" fill-opacity="0.91" stroke="#4a4a4a" stroke-opacity="0.91" stroke-width="1.4"/>
<circle cx="944.1" cy="327.5" r="3.9" fill="#707070" fill-opacity="0.88" stroke="#707070" stroke-opacity="0.88" stroke-width="1.4"/>
<circle cx="1017.1" cy="345.1" r="3.9" fill="#707070" fill-opacity="0.88" stroke="#707070" stroke-opacity="0.88" stroke-width="1.4"/>
<circle cx="1072.4" cy="341.1" r="3.9" fill="#707070" fill-opacity="0.88" stroke="#707070" stroke-opacity="0.88" stroke-width="1.4"/>
<circle cx="1127.7" cy="331.4" r="3.9" fill="#707070" fill-opacity="0.88" stroke="#707070" stroke-opacity="0.88" stroke-width="1.4"/>
<circle cx="1183.0" cy="333.3" r="3.9" fill="#707070" fill-opacity="0.88" stroke="#707070" stroke-opacity="0.88" stroke-width="1.4"/>
<circle cx="1215.3" cy="349.0" r="3.9" fill="#707070" fill-opacity="0.88" stroke="#707070" stroke-opacity="0.88" stroke-width="1.4"/>
<circle cx="1238.3" cy="323.5" r="3.9" fill="#707070" fill-opacity="0.88" stroke="#707070" stroke-opacity="0.88" stroke-width="1.4"/>
<circle cx="1256.1" cy="331.4" r="3.9" fill="#707070" fill-opacity="0.88" stroke="#707070" stroke-opacity="0.88" stroke-width="1.4"/>
<circle cx="1311.3" cy="333.3" r="3.9" fill="#707070" fill-opacity="0.88" stroke="#707070" stroke-opacity="0.88" stroke-width="1.4"/>
<circle cx="1343.7" cy="331.4" r="3.9" fill="#707070" fill-opacity="0.88" stroke="#707070" stroke-opacity="0.88" stroke-width="1.4"/>
<circle cx="1366.6" cy="333.3" r="3.9" fill="#707070" fill-opacity="0.88" stroke="#707070" stroke-opacity="0.88" stroke-width="1.4"/>
<circle cx="976.4" cy="325.5" r="3.9" fill="#999999" fill-opacity="0.87" stroke="#999999" stroke-opacity="0.87" stroke-width="1.4"/>
<circle cx="1049.5" cy="343.1" r="3.9" fill="#999999" fill-opacity="0.87" stroke="#999999" stroke-opacity="0.87" stroke-width="1.4"/>
<circle cx="1104.8" cy="343.1" r="3.9" fill="#999999" fill-opacity="0.87" stroke="#999999" stroke-opacity="0.87" stroke-width="1.4"/>
<circle cx="1160.0" cy="327.5" r="3.9" fill="#999999" fill-opacity="0.87" stroke="#999999" stroke-opacity="0.87" stroke-width="1.4"/>
<circle cx="1215.3" cy="341.1" r="3.9" fill="#999999" fill-opacity="0.87" stroke="#999999" stroke-opacity="0.87" stroke-width="1.4"/>
<circle cx="1247.7" cy="337.2" r="3.9" fill="#999999" fill-opacity="0.87" stroke="#999999" stroke-opacity="0.87" stroke-width="1.4"/>
<circle cx="1270.6" cy="341.1" r="3.9" fill="#999999" fill-opacity="0.87" stroke="#999999" stroke-opacity="0.87" stroke-width="1.4"/>
<circle cx="1288.4" cy="319.6" r="3.9" fill="#999999" fill-opacity="0.87" stroke="#999999" stroke-opacity="0.87" stroke-width="1.4"/>
<circle cx="1343.7" cy="339.2" r="3.9" fill="#999999" fill-opacity="0.87" stroke="#999999" stroke-opacity="0.87" stroke-width="1.4"/>
<circle cx="1376.0" cy="343.1" r="3.9" fill="#999999" fill-opacity="0.87" stroke="#999999" stroke-opacity="0.87" stroke-width="1.4"/>
<circle cx="1398.9" cy="339.2" r="3.9" fill="#999999" fill-opacity="0.87" stroke="#999999" stroke-opacity="0.87" stroke-width="1.4"/>
<circle cx="999.4" cy="339.2" r="3.9" fill="#c4c4c4" fill-opacity="0.86" stroke="#c4c4c4" stroke-opacity="0.86" stroke-width="1.4"/>
<circle cx="1072.4" cy="333.3" r="3.9" fill="#c4c4c4" fill-opacity="0.86" stroke="#c4c4c4" stroke-opacity="0.86" stroke-width="1.4"/>
<circle cx="1127.7" cy="341.1" r="3.9" fill="#c4c4c4" fill-opacity="0.86" stroke="#c4c4c4" stroke-opacity="0.86" stroke-width="1.4"/>
<circle cx="1183.0" cy="327.5" r="3.9" fill="#c4c4c4" fill-opacity="0.86" stroke="#c4c4c4" stroke-opacity="0.86" stroke-width="1.4"/>
<circle cx="1238.3" cy="352.9" r="3.9" fill="#c4c4c4" fill-opacity="0.86" stroke="#c4c4c4" stroke-opacity="0.86" stroke-width="1.4"/>
<circle cx="1270.6" cy="347.0" r="3.9" fill="#c4c4c4" fill-opacity="0.86" stroke="#c4c4c4" stroke-opacity="0.86" stroke-width="1.4"/>
<circle cx="1293.5" cy="323.5" r="3.9" fill="#c4c4c4" fill-opacity="0.86" stroke="#c4c4c4" stroke-opacity="0.86" stroke-width="1.4"/>
<circle cx="1311.3" cy="329.4" r="3.9" fill="#c4c4c4" fill-opacity="0.86" stroke="#c4c4c4" stroke-opacity="0.86" stroke-width="1.4"/>
<circle cx="1366.6" cy="345.1" r="3.9" fill="#c4c4c4" fill-opacity="0.86" stroke="#c4c4c4" stroke-opacity="0.86" stroke-width="1.4"/>
<circle cx="1398.9" cy="331.4" r="3.9" fill="#c4c4c4" fill-opacity="0.86" stroke="#c4c4c4" stroke-opacity="0.86" stroke-width="1.4"/>
<circle cx="1421.9" cy="327.5" r="3.9" fill="#c4c4c4" fill-opacity="0.86" stroke="#c4c4c4" stroke-opacity="0.86" stroke-width="1.4"/>
<polyline points="815.7,329.4 888.8,335.3 944.1,347.0 999.4,366.6 1054.6,364.6 1087.0,347.0 1109.9,347.0 1127.7,341.1 1183.0,339.2 1215.3,327.5 1238.3,331.4" fill="none" stroke="#000000" stroke-width="2.25" stroke-linejoin="round"/>
<polyline points="848.1,329.4 921.1,333.3 976.4,343.1 1031.7,352.9 1087.0,331.4 1119.3,337.2 1142.2,327.5 1160.0,339.2 1215.3,333.3 1247.7,327.5 1270.6,333.3" fill="none" stroke="#232323" stroke-width="2.25" stroke-linejoin="round"/>
<polyline points="888.8,325.5 961.9,333.3 1017.1,343.1 1072.4,323.5 1127.7,350.9 1160.0,335.3 1183.0,333.3 1200.8,337.2 1256.1,347.0 1288.4,329.4 1311.3,337.2" fill="none" stroke="#4a4a4a" stroke-width="2.25" stroke-linejoin="round"/>
<polyline points="944.1,327.5 1017.1,345.1 1072.4,341.1 1127.7,331.4 1183.0,333.3 1215.3,349.0 1238.3,323.5 1256.1,331.4 1311.3,333.3 1343.7,331.4 1366.6,333.3" fill="none" stroke="#707070" stroke-width="2.25" stroke-linejoin="round"/>
<polyline points="976.4,325.5 1049.5,343.1 1104.8,343.1 1160.0,327.5 1215.3,341.1 1247.7,337.2 1270.6,341.1 1288.4,319.6 1343.7,339.2 1376.0,343.1 1398.9,339.2" fill="none" stroke="#999999" stroke-width="2.25" stroke-linejoin="round"/>
<polyline points="999.4,339.2 1072.4,333.3 1127.7,341.1 1183.0,327.5 1238.3,352.9 1270.6,347.0 1293.5,323.5 1311.3,329.4 1366.6,345.1 1398.9,331.4 1421.9,327.5" fill="none" stroke="#c4c4c4" stroke-width="2.25" stroke-linejoin="round"/>
</g>
<rect x="786.1" y="284.8" width="665.6999999999999" height="214.39999999999998" fill="none" stroke="#111" stroke-width="1.15"/>
</g>
<g>
<rect x="786.1" y="523.8" width="665.6999999999999" height="214.20000000000005" fill="#fff"/>
<clipPath id="c12"><rect x="786.1" y="523.8" width="665.6999999999999" height="214.20000000000005"/></clipPath>
<g clip-path="url(#c12)">
<line x1="1183.0" y1="738.0" x2="1183.0" y2="523.8" stroke="#dadada" stroke-width="1.9" stroke-dasharray="8.85 8.45"/>
<polyline points="999.4,726.2 1072.4,728.2 1127.7,728.2 1183.0,728.2 1238.3,728.2 1270.6,728.2 1293.5,728.2 1311.3,728.2 1366.6,728.2 1398.9,728.2 1421.9,728.2" fill="none" stroke="#E69F00" stroke-opacity="0.52" stroke-width="2.2" stroke-linejoin="round"/>
<circle cx="999.4" cy="726.2" r="3.85" fill="#E69F00" fill-opacity="0.46" stroke="#E69F00" stroke-opacity="0.5" stroke-width="1.4"/>
<circle cx="1072.4" cy="728.2" r="3.85" fill="#E69F00" fill-opacity="0.46" stroke="#E69F00" stroke-opacity="0.5" stroke-width="1.4"/>
<circle cx="1127.7" cy="728.2" r="3.85" fill="#E69F00" fill-opacity="0.46" stroke="#E69F00" stroke-opacity="0.5" stroke-width="1.4"/>
<circle cx="1183.0" cy="728.2" r="3.85" fill="#E69F00" fill-opacity="0.46" stroke="#E69F00" stroke-opacity="0.5" stroke-width="1.4"/>
<circle cx="1238.3" cy="728.2" r="3.85" fill="#E69F00" fill-opacity="0.46" stroke="#E69F00" stroke-opacity="0.5" stroke-width="1.4"/>
<circle cx="1270.6" cy="728.2" r="3.85" fill="#E69F00" fill-opacity="0.46" stroke="#E69F00" stroke-opacity="0.5" stroke-width="1.4"/>
<circle cx="1293.5" cy="728.2" r="3.85" fill="#E69F00" fill-opacity="0.46" stroke="#E69F00" stroke-opacity="0.5" stroke-width="1.4"/>
<circle cx="1311.3" cy="728.2" r="3.85" fill="#E69F00" fill-opacity="0.46" stroke="#E69F00" stroke-opacity="0.5" stroke-width="1.4"/>
<circle cx="1366.6" cy="728.2" r="3.85" fill="#E69F00" fill-opacity="0.46" stroke="#E69F00" stroke-opacity="0.5" stroke-width="1.4"/>
<circle cx="1398.9" cy="728.2" r="3.85" fill="#E69F00" fill-opacity="0.46" stroke="#E69F00" stroke-opacity="0.5" stroke-width="1.4"/>
<circle cx="1421.9" cy="728.2" r="3.85" fill="#E69F00" fill-opacity="0.46" stroke="#E69F00" stroke-opacity="0.5" stroke-width="1.4"/>
<line x1="786.1" y1="561.9" x2="1451.8" y2="561.9" stroke="#ff7272" stroke-width="2.1" stroke-dasharray="8.85 8.45"/>
<circle cx="815.7" cy="726.2" r="3.9" fill="#000000" fill-opacity="0.95" stroke="#000000" stroke-opacity="0.95" stroke-width="1.4"/>
<circle cx="888.8" cy="726.2" r="3.9" fill="#000000" fill-opacity="0.95" stroke="#000000" stroke-opacity="0.95" stroke-width="1.4"/>
<circle cx="944.1" cy="728.2" r="3.9" fill="#000000" fill-opacity="0.95" stroke="#000000" stroke-opacity="0.95" stroke-width="1.4"/>
<circle cx="999.4" cy="728.2" r="3.9" fill="#000000" fill-opacity="0.95" stroke="#000000" stroke-opacity="0.95" stroke-width="1.4"/>
<circle cx="1054.6" cy="728.2" r="3.9" fill="#000000" fill-opacity="0.95" stroke="#000000" stroke-opacity="0.95" stroke-width="1.4"/>
<circle cx="1087.0" cy="728.2" r="3.9" fill="#000000" fill-opacity="0.95" stroke="#000000" stroke-opacity="0.95" stroke-width="1.4"/>
<circle cx="1109.9" cy="728.2" r="3.9" fill="#000000" fill-opacity="0.95" stroke="#000000" stroke-opacity="0.95" stroke-width="1.4"/>
<circle cx="1127.7" cy="728.2" r="3.9" fill="#000000" fill-opacity="0.95" stroke="#000000" stroke-opacity="0.95" stroke-width="1.4"/>
<circle cx="1183.0" cy="728.2" r="3.9" fill="#000000" fill-opacity="0.95" stroke="#000000" stroke-opacity="0.95" stroke-width="1.4"/>
<circle cx="1215.3" cy="727.2" r="3.9" fill="#000000" fill-opacity="0.95" stroke="#000000" stroke-opacity="0.95" stroke-width="1.4"/>
<circle cx="1238.3" cy="726.2" r="3.9" fill="#000000" fill-opacity="0.95" stroke="#000000" stroke-opacity="0.95" stroke-width="1.4"/>
<circle cx="848.1" cy="726.2" r="3.9" fill="#232323" fill-opacity="0.91" stroke="#232323" stroke-opacity="0.91" stroke-width="1.4"/>
<circle cx="921.1" cy="726.2" r="3.9" fill="#232323" fill-opacity="0.91" stroke="#232323" stroke-opacity="0.91" stroke-width="1.4"/>
<circle cx="976.4" cy="728.2" r="3.9" fill="#232323" fill-opacity="0.91" stroke="#232323" stroke-opacity="0.91" stroke-width="1.4"/>
<circle cx="1031.7" cy="726.2" r="3.9" fill="#232323" fill-opacity="0.91" stroke="#232323" stroke-opacity="0.91" stroke-width="1.4"/>
<circle cx="1087.0" cy="728.2" r="3.9" fill="#232323" fill-opacity="0.91" stroke="#232323" stroke-opacity="0.91" stroke-width="1.4"/>
<circle cx="1119.3" cy="728.2" r="3.9" fill="#232323" fill-opacity="0.91" stroke="#232323" stroke-opacity="0.91" stroke-width="1.4"/>
<circle cx="1142.2" cy="728.2" r="3.9" fill="#232323" fill-opacity="0.91" stroke="#232323" stroke-opacity="0.91" stroke-width="1.4"/>
<circle cx="1160.0" cy="728.2" r="3.9" fill="#232323" fill-opacity="0.91" stroke="#232323" stroke-opacity="0.91" stroke-width="1.4"/>
<circle cx="1215.3" cy="726.2" r="3.9" fill="#232323" fill-opacity="0.91" stroke="#232323" stroke-opacity="0.91" stroke-width="1.4"/>
<circle cx="1247.7" cy="726.2" r="3.9" fill="#232323" fill-opacity="0.91" stroke="#232323" stroke-opacity="0.91" stroke-width="1.4"/>
<circle cx="1270.6" cy="728.2" r="3.9" fill="#232323" fill-opacity="0.91" stroke="#232323" stroke-opacity="0.91" stroke-width="1.4"/>
<circle cx="888.8" cy="728.2" r="3.9" fill="#4a4a4a" fill-opacity="0.91" stroke="#4a4a4a" stroke-opacity="0.91" stroke-width="1.4"/>
<circle cx="961.9" cy="728.2" r="3.9" fill="#4a4a4a" fill-opacity="0.91" stroke="#4a4a4a" stroke-opacity="0.91" stroke-width="1.4"/>
<circle cx="1017.1" cy="728.2" r="3.9" fill="#4a4a4a" fill-opacity="0.91" stroke="#4a4a4a" stroke-opacity="0.91" stroke-width="1.4"/>
<circle cx="1072.4" cy="728.2" r="3.9" fill="#4a4a4a" fill-opacity="0.91" stroke="#4a4a4a" stroke-opacity="0.91" stroke-width="1.4"/>
<circle cx="1127.7" cy="728.2" r="3.9" fill="#4a4a4a" fill-opacity="0.91" stroke="#4a4a4a" stroke-opacity="0.91" stroke-width="1.4"/>
<circle cx="1160.0" cy="728.2" r="3.9" fill="#4a4a4a" fill-opacity="0.91" stroke="#4a4a4a" stroke-opacity="0.91" stroke-width="1.4"/>
<circle cx="1183.0" cy="728.2" r="3.9" fill="#4a4a4a" fill-opacity="0.91" stroke="#4a4a4a" stroke-opacity="0.91" stroke-width="1.4"/>
<circle cx="1200.8" cy="726.2" r="3.9" fill="#4a4a4a" fill-opacity="0.91" stroke="#4a4a4a" stroke-opacity="0.91" stroke-width="1.4"/>
<circle cx="1256.1" cy="728.2" r="3.9" fill="#4a4a4a" fill-opacity="0.91" stroke="#4a4a4a" stroke-opacity="0.91" stroke-width="1.4"/>
<circle cx="1288.4" cy="728.2" r="3.9" fill="#4a4a4a" fill-opacity="0.91" stroke="#4a4a4a" stroke-opacity="0.91" stroke-width="1.4"/>
<circle cx="1311.3" cy="728.2" r="3.9" fill="#4a4a4a" fill-opacity="0.91" stroke="#4a4a4a" stroke-opacity="0.91" stroke-width="1.4"/>
<circle cx="944.1" cy="727.2" r="3.9" fill="#707070" fill-opacity="0.88" stroke="#707070" stroke-opacity="0.88" stroke-width="1.4"/>
<circle cx="1017.1" cy="728.2" r="3.9" fill="#707070" fill-opacity="0.88" stroke="#707070" stroke-opacity="0.88" stroke-width="1.4"/>
<circle cx="1072.4" cy="728.2" r="3.9" fill="#707070" fill-opacity="0.88" stroke="#707070" stroke-opacity="0.88" stroke-width="1.4"/>
<circle cx="1127.7" cy="728.2" r="3.9" fill="#707070" fill-opacity="0.88" stroke="#707070" stroke-opacity="0.88" stroke-width="1.4"/>
<circle cx="1183.0" cy="728.2" r="3.9" fill="#707070" fill-opacity="0.88" stroke="#707070" stroke-opacity="0.88" stroke-width="1.4"/>
<circle cx="1215.3" cy="728.2" r="3.9" fill="#707070" fill-opacity="0.88" stroke="#707070" stroke-opacity="0.88" stroke-width="1.4"/>
<circle cx="1238.3" cy="728.2" r="3.9" fill="#707070" fill-opacity="0.88" stroke="#707070" stroke-opacity="0.88" stroke-width="1.4"/>
<circle cx="1256.1" cy="728.2" r="3.9" fill="#707070" fill-opacity="0.88" stroke="#707070" stroke-opacity="0.88" stroke-width="1.4"/>
<circle cx="1311.3" cy="728.2" r="3.9" fill="#707070" fill-opacity="0.88" stroke="#707070" stroke-opacity="0.88" stroke-width="1.4"/>
<circle cx="1343.7" cy="728.2" r="3.9" fill="#707070" fill-opacity="0.88" stroke="#707070" stroke-opacity="0.88" stroke-width="1.4"/>
<circle cx="1366.6" cy="722.3" r="3.9" fill="#707070" fill-opacity="0.88" stroke="#707070" stroke-opacity="0.88" stroke-width="1.4"/>
<circle cx="976.4" cy="728.2" r="3.9" fill="#999999" fill-opacity="0.87" stroke="#999999" stroke-opacity="0.87" stroke-width="1.4"/>
<circle cx="1049.5" cy="728.2" r="3.9" fill="#999999" fill-opacity="0.87" stroke="#999999" stroke-opacity="0.87" stroke-width="1.4"/>
<circle cx="1104.8" cy="728.2" r="3.9" fill="#999999" fill-opacity="0.87" stroke="#999999" stroke-opacity="0.87" stroke-width="1.4"/>
<circle cx="1160.0" cy="728.2" r="3.9" fill="#999999" fill-opacity="0.87" stroke="#999999" stroke-opacity="0.87" stroke-width="1.4"/>
<circle cx="1215.3" cy="728.2" r="3.9" fill="#999999" fill-opacity="0.87" stroke="#999999" stroke-opacity="0.87" stroke-width="1.4"/>
<circle cx="1247.7" cy="728.2" r="3.9" fill="#999999" fill-opacity="0.87" stroke="#999999" stroke-opacity="0.87" stroke-width="1.4"/>
<circle cx="1270.6" cy="728.2" r="3.9" fill="#999999" fill-opacity="0.87" stroke="#999999" stroke-opacity="0.87" stroke-width="1.4"/>
<circle cx="1288.4" cy="728.2" r="3.9" fill="#999999" fill-opacity="0.87" stroke="#999999" stroke-opacity="0.87" stroke-width="1.4"/>
<circle cx="1343.7" cy="728.2" r="3.9" fill="#999999" fill-opacity="0.87" stroke="#999999" stroke-opacity="0.87" stroke-width="1.4"/>
<circle cx="1376.0" cy="728.2" r="3.9" fill="#999999" fill-opacity="0.87" stroke="#999999" stroke-opacity="0.87" stroke-width="1.4"/>
<circle cx="1398.9" cy="728.2" r="3.9" fill="#999999" fill-opacity="0.87" stroke="#999999" stroke-opacity="0.87" stroke-width="1.4"/>
<circle cx="999.4" cy="728.2" r="3.9" fill="#c4c4c4" fill-opacity="0.86" stroke="#c4c4c4" stroke-opacity="0.86" stroke-width="1.4"/>
<circle cx="1072.4" cy="728.2" r="3.9" fill="#c4c4c4" fill-opacity="0.86" stroke="#c4c4c4" stroke-opacity="0.86" stroke-width="1.4"/>
<circle cx="1127.7" cy="728.2" r="3.9" fill="#c4c4c4" fill-opacity="0.86" stroke="#c4c4c4" stroke-opacity="0.86" stroke-width="1.4"/>
<circle cx="1183.0" cy="728.2" r="3.9" fill="#c4c4c4" fill-opacity="0.86" stroke="#c4c4c4" stroke-opacity="0.86" stroke-width="1.4"/>
<circle cx="1238.3" cy="728.2" r="3.9" fill="#c4c4c4" fill-opacity="0.86" stroke="#c4c4c4" stroke-opacity="0.86" stroke-width="1.4"/>
<circle cx="1270.6" cy="728.2" r="3.9" fill="#c4c4c4" fill-opacity="0.86" stroke="#c4c4c4" stroke-opacity="0.86" stroke-width="1.4"/>
<circle cx="1293.5" cy="728.2" r="3.9" fill="#c4c4c4" fill-opacity="0.86" stroke="#c4c4c4" stroke-opacity="0.86" stroke-width="1.4"/>
<circle cx="1311.3" cy="728.2" r="3.9" fill="#c4c4c4" fill-opacity="0.86" stroke="#c4c4c4" stroke-opacity="0.86" stroke-width="1.4"/>
<circle cx="1366.6" cy="728.2" r="3.9" fill="#c4c4c4" fill-opacity="0.86" stroke="#c4c4c4" stroke-opacity="0.86" stroke-width="1.4"/>
<circle cx="1398.9" cy="726.2" r="3.9" fill="#c4c4c4" fill-opacity="0.86" stroke="#c4c4c4" stroke-opacity="0.86" stroke-width="1.4"/>
<circle cx="1421.9" cy="726.2" r="3.9" fill="#c4c4c4" fill-opacity="0.86" stroke="#c4c4c4" stroke-opacity="0.86" stroke-width="1.4"/>
<polyline points="815.7,726.2 888.8,726.2 944.1,728.2 999.4,728.2 1054.6,728.2 1087.0,728.2 1109.9,728.2 1127.7,728.2 1183.0,728.2 1215.3,727.2 1238.3,726.2" fill="none" stroke="#000000" stroke-width="2.25" stroke-linejoin="round"/>
<polyline points="848.1,726.2 921.1,726.2 976.4,728.2 1031.7,726.2 1087.0,728.2 1119.3,728.2 1142.2,728.2 1160.0,728.2 1215.3,726.2 1247.7,726.2 1270.6,728.2" fill="none" stroke="#232323" stroke-width="2.25" stroke-linejoin="round"/>
<polyline points="888.8,728.2 961.9,728.2 1017.1,728.2 1072.4,728.2 1127.7,728.2 1160.0,728.2 1183.0,728.2 1200.8,726.2 1256.1,728.2 1288.4,728.2 1311.3,728.2" fill="none" stroke="#4a4a4a" stroke-width="2.25" stroke-linejoin="round"/>
<polyline points="944.1,727.2 1017.1,728.2 1072.4,728.2 1127.7,728.2 1183.0,728.2 1215.3,728.2 1238.3,728.2 1256.1,728.2 1311.3,728.2 1343.7,728.2 1366.6,722.3" fill="none" stroke="#707070" stroke-width="2.25" stroke-linejoin="round"/>
<polyline points="976.4,728.2 1049.5,728.2 1104.8,728.2 1160.0,728.2 1215.3,728.2 1247.7,728.2 1270.6,728.2 1288.4,728.2 1343.7,728.2 1376.0,728.2 1398.9,728.2" fill="none" stroke="#999999" stroke-width="2.25" stroke-linejoin="round"/>
<polyline points="999.4,728.2 1072.4,728.2 1127.7,728.2 1183.0,728.2 1238.3,728.2 1270.6,728.2 1293.5,728.2 1311.3,728.2 1366.6,728.2 1398.9,726.2 1421.9,726.2" fill="none" stroke="#c4c4c4" stroke-width="2.25" stroke-linejoin="round"/>
</g>
<rect x="786.1" y="523.8" width="665.6999999999999" height="214.20000000000005" fill="none" stroke="#111" stroke-width="1.15"/>
<line x1="785.5" y1="738.0" x2="1452.3999999999999" y2="738.0" stroke="#000" stroke-width="2.1"/>
<line x1="815.7" y1="738.0" x2="815.7" y2="744.9" stroke="#000" stroke-width="2.1"/>
<text transform="translate(801.79,769.00) scale(1.04,1.0)" font-size="23.5" text-anchor="start" fill="#000">−</text>
<path d="M763 0H583V1147Q518 1085 412.5 1023T223 930V1104Q374 1175 487 1276T647 1472H763V0Z" transform="translate(816.06,769.00) scale(0.01193,-0.01147)" fill="#000"/>
<line x1="999.4" y1="738.0" x2="999.4" y2="744.9" stroke="#000" stroke-width="2.1"/>
<text transform="translate(999.35,769.00) scale(1.04,1.0)" font-size="23.5" text-anchor="middle" fill="#000">0</text>
<line x1="1183.0" y1="738.0" x2="1183.0" y2="744.9" stroke="#000" stroke-width="2.1"/>
<path d="M763 0H583V1147Q518 1085 412.5 1023T223 930V1104Q374 1175 487 1276T647 1472H763V0Z" transform="translate(1176.19,769.00) scale(0.01193,-0.01147)" fill="#000"/>
<line x1="1366.6" y1="738.0" x2="1366.6" y2="744.9" stroke="#000" stroke-width="2.1"/>
<text transform="translate(1366.61,769.00) scale(1.04,1.0)" font-size="23.5" text-anchor="middle" fill="#000">2</text>
</g>
<text transform="translate(22.00,395.40) rotate(-90) scale(1.02,1.0)" font-size="28.4" text-anchor="middle" fill="#000">turnover proportion</text>
<text transform="translate(602.70,813.50) scale(1.01,1.0)" font-size="28.2" text-anchor="start" fill="#999999">log</text>
<path d="M763 0H583V1147Q518 1085 412.5 1023T223 930V1104Q374 1175 487 1276T647 1472H763V0Z" transform="translate(640.60,818.60) scale(0.01027,-0.00942)" fill="#999999"/>
<text transform="translate(652.30,818.60) scale(1.09,1.0)" font-size="19.3" text-anchor="start" fill="#999999">0</text>
<path d="M676.20,786.8 Q660.00,806.6 676.20,826.4 L677.50,826.4 Q665.10,806.6 677.50,786.8 Z" fill="#999999"/>
<text transform="translate(678.40,813.50) scale(1.03,1.08)" font-size="28.2" text-anchor="start" fill="#999999" font-style="italic">N</text>
<text transform="translate(697.20,820.00)" font-size="16" text-anchor="start" fill="#999999" font-style="italic">e</text>
<text transform="translate(706.50,813.50) scale(1.04,1.0)" font-size="28.2" text-anchor="start" fill="#999999" font-style="italic">h</text>
<text transform="translate(721.90,813.50) scale(1.06,1.0)" font-size="28.2" text-anchor="start" fill="#999999" font-style="italic">s</text>
<path d="M738.10,786.8 Q754.30,806.6 738.10,826.4 L736.80,826.4 Q749.20,806.6 736.80,786.8 Z" fill="#999999"/>
<text transform="translate(759.60,813.50) scale(1.02,1.0)" font-size="28.2" text-anchor="start" fill="#000">or</text>
<text transform="translate(804.20,813.50) scale(1.02,1.0)" font-size="28.2" text-anchor="start" fill="#E69F00">log</text>
<path d="M763 0H583V1147Q518 1085 412.5 1023T223 930V1104Q374 1175 487 1276T647 1472H763V0Z" transform="translate(842.20,818.60) scale(0.01055,-0.00942)" fill="#E69F00"/>
<text transform="translate(854.22,818.60) scale(1.12,1.0)" font-size="19.3" text-anchor="start" fill="#E69F00">0</text>
<path d="M878.20,786.8 Q862.00,806.6 878.20,826.4 L879.50,826.4 Q867.10,806.6 879.50,786.8 Z" fill="#E69F00"/>
<text transform="translate(881.00,813.50) scale(1.05,1.08)" font-size="28.2" text-anchor="start" fill="#E69F00" font-style="italic">N</text>
<text transform="translate(900.60,820.00)" font-size="16" text-anchor="start" fill="#E69F00" font-style="italic">e</text>
<text transform="translate(909.90,813.50) scale(1.1,1.0)" font-size="28.2" text-anchor="start" fill="#E69F00" font-style="italic">s</text>
<path d="M926.60,786.8 Q943.20,806.6 926.60,826.4 L925.30,826.4 Q938.10,806.6 925.30,786.8 Z" fill="#E69F00"/>
</svg>
</body></html>
